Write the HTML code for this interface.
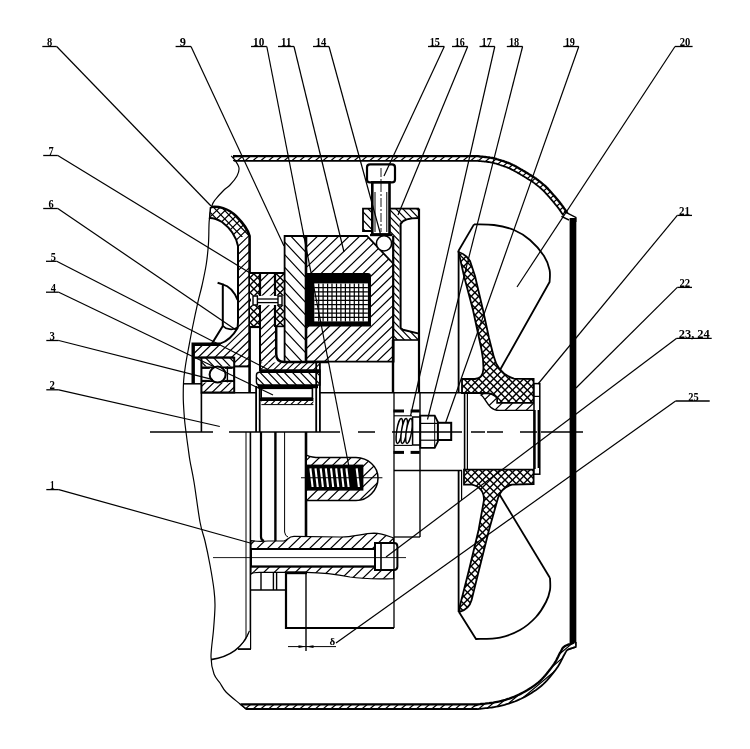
<!DOCTYPE html>
<html lang="en"><head><meta charset="utf-8"><title>Figure</title>
<style>
html,body{margin:0;padding:0;background:#fff;}
body{width:750px;height:749px;overflow:hidden;}
svg{display:block;filter:grayscale(1);}
</style></head><body>
<svg width="750" height="749" viewBox="0 0 750 749" stroke="#000" fill="none">
<rect x="0" y="0" width="750" height="749" fill="#fff" stroke="none"/>
<defs>
<path id="h1" d="M-139.8,424.2L392.6,-89.9M-134.7,429.5L397.6,-84.6M-129.7,434.7L402.7,-79.4M-124.6,440L407.8,-74.1M-119.5,445.2L412.8,-68.9M-114.4,450.5L417.9,-63.6M-109.4,455.7L423,-58.4M-104.3,461L428.1,-53.1M-99.2,466.2L433.1,-47.8M-94.2,471.5L438.2,-42.6M-89.1,476.7L443.3,-37.3M-84,482L448.3,-32.1M-78.9,487.3L453.4,-26.8M-73.9,492.5L458.5,-21.6M-68.8,497.8L463.6,-16.3M-63.7,503L468.6,-11.1M-58.7,508.3L473.7,-5.8M-53.6,513.5L478.8,-0.6M-48.5,518.8L483.8,4.7M-43.5,524L488.9,9.9M-38.4,529.3L494,15.2M-33.3,534.5L499.1,20.4M-28.2,539.8L504.1,25.7M-23.2,545L509.2,30.9M-18.1,550.3L514.3,36.2M-13,555.5L519.3,41.4M-8,560.8L524.4,46.7M-2.9,566L529.5,51.9M2.2,571.3L534.5,57.2M7.3,576.5L539.6,62.4M12.3,581.8L544.7,67.7M17.4,587L549.8,72.9M22.5,592.3L554.8,78.2M27.5,597.5L559.9,83.4M32.6,602.8L565,88.7M37.7,608L570,93.9M42.8,613.3L575.1,99.2M47.8,618.5L580.2,104.4M52.9,623.8L585.3,109.7M58,629L590.3,114.9M63,634.3L595.4,120.2M68.1,639.5L600.5,125.4M73.2,644.8L605.5,130.7M78.3,650L610.6,135.9M83.3,655.3L615.7,141.2M88.4,660.5L620.8,146.4M93.5,665.8L625.8,151.7M98.5,671L630.9,156.9M103.6,676.3L636,162.2M108.7,681.5L641,167.5M113.7,686.8L646.1,172.7M118.8,692L651.2,178M123.9,697.3L656.3,183.2M129,702.5L661.3,188.5M134,707.8L666.4,193.7M139.1,713.1L671.5,199M144.2,718.3L676.5,204.2M149.2,723.6L681.6,209.5M154.3,728.8L686.7,214.7M159.4,734.1L691.7,220M164.5,739.3L696.8,225.2M169.5,744.6L701.9,230.5M174.6,749.8L707,235.7M179.7,755.1L712,241M184.7,760.3L717.1,246.2M189.8,765.6L722.2,251.5M194.9,770.8L727.2,256.7M200,776.1L732.3,262M205,781.3L737.4,267.2M210.1,786.6L742.5,272.5M215.2,791.8L747.5,277.7M220.2,797.1L752.6,283M225.3,802.3L757.7,288.2M230.4,807.6L762.7,293.5M235.5,812.8L767.8,298.7M240.5,818.1L772.9,304M245.6,823.3L778,309.2M250.7,828.6L783,314.5M255.7,833.8L788.1,319.7M260.8,839.1L793.2,325M265.9,844.3L798.2,330.2M270.9,849.6L803.3,335.5M276,854.8L808.4,340.7M281.1,860.1L813.5,346M286.2,865.3L818.5,351.2M291.2,870.6L823.6,356.5M296.3,875.8L828.7,361.7M301.4,881.1L833.7,367M306.4,886.3L838.8,372.2M311.5,891.6L843.9,377.5M316.6,896.8L848.9,382.7M321.7,902.1L854,388M326.7,907.3L859.1,393.3M331.8,912.6L864.2,398.5M336.9,917.8L869.2,403.8M341.9,923.1L874.3,409M347,928.4L879.4,414.3M352.1,933.6L884.4,419.5M357.2,938.9L889.5,424.8M362.2,944.1L894.6,430M367.3,949.4L899.7,435.3M372.4,954.6L904.7,440.5M377.4,959.9L909.8,445.8" stroke="#000" stroke-width="1.2" fill="none"/>
<path id="h2" d="M395.8,-89.8L909.9,442.6M390.5,-84.7L904.6,447.6M385.3,-79.7L899.4,452.7M380,-74.6L894.1,457.8M374.8,-69.5L888.9,462.8M369.5,-64.4L883.6,467.9M364.3,-59.4L878.4,473M359,-54.3L873.1,478.1M353.8,-49.2L867.8,483.1M348.5,-44.2L862.6,488.2M343.3,-39.1L857.3,493.3M338,-34L852.1,498.3M332.7,-28.9L846.8,503.4M327.5,-23.9L841.6,508.5M322.2,-18.8L836.3,513.6M317,-13.7L831.1,518.6M311.7,-8.7L825.8,523.7M306.5,-3.6L820.6,528.8M301.2,1.5L815.3,533.8M296,6.5L810.1,538.9M290.7,11.6L804.8,544M285.5,16.7L799.6,549.1M280.2,21.8L794.3,554.1M275,26.8L789.1,559.2M269.7,31.9L783.8,564.3M264.5,37L778.6,569.3M259.2,42L773.3,574.4M254,47.1L768.1,579.5M248.7,52.2L762.8,584.5M243.5,57.3L757.6,589.6M238.2,62.3L752.3,594.7M233,67.4L747.1,599.8M227.7,72.5L741.8,604.8M222.5,77.5L736.6,609.9M217.2,82.6L731.3,615M212,87.7L726.1,620M206.7,92.8L720.8,625.1M201.5,97.8L715.6,630.2M196.2,102.9L710.3,635.3M191,108L705.1,640.3M185.7,113L699.8,645.4M180.5,118.1L694.6,650.5M175.2,123.2L689.3,655.5M170,128.3L684.1,660.6M164.7,133.3L678.8,665.7M159.5,138.4L673.6,670.8M154.2,143.5L668.3,675.8M149,148.5L663.1,680.9M143.7,153.6L657.8,686M138.5,158.7L652.5,691M133.2,163.7L647.3,696.1M128,168.8L642,701.2M122.7,173.9L636.8,706.3M117.5,179L631.5,711.3M112.2,184L626.3,716.4M106.9,189.1L621,721.5M101.7,194.2L615.8,726.5M96.4,199.2L610.5,731.6M91.2,204.3L605.3,736.7M85.9,209.4L600,741.7M80.7,214.5L594.8,746.8M75.4,219.5L589.5,751.9M70.2,224.6L584.3,757M64.9,229.7L579,762M59.7,234.7L573.8,767.1M54.4,239.8L568.5,772.2M49.2,244.9L563.3,777.2M43.9,250L558,782.3M38.7,255L552.8,787.4M33.4,260.1L547.5,792.5M28.2,265.2L542.3,797.5M22.9,270.2L537,802.6M17.7,275.3L531.8,807.7M12.4,280.4L526.5,812.7M7.2,285.5L521.3,817.8M1.9,290.5L516,822.9M-3.3,295.6L510.8,828M-8.6,300.7L505.5,833M-13.8,305.7L500.3,838.1M-19.1,310.8L495,843.2M-24.3,315.9L489.8,848.2M-29.6,320.9L484.5,853.3M-34.8,326L479.3,858.4M-40.1,331.1L474,863.5M-45.3,336.2L468.8,868.5M-50.6,341.2L463.5,873.6M-55.8,346.3L458.3,878.7M-61.1,351.4L453,883.7M-66.3,356.4L447.8,888.8M-71.6,361.5L442.5,893.9M-76.8,366.6L437.3,898.9M-82.1,371.7L432,904M-87.3,376.7L426.7,909.1M-92.6,381.8L421.5,914.2M-97.8,386.9L416.2,919.2M-103.1,391.9L411,924.3M-108.4,397L405.7,929.4M-113.6,402.1L400.5,934.4M-118.9,407.2L395.2,939.5M-124.1,412.2L390,944.6M-129.4,417.3L384.7,949.7M-134.6,422.4L379.5,954.7M-139.9,427.4L374.2,959.8" stroke="#000" stroke-width="1.2" fill="none"/>
<path id="h2c" d="M407.9,-92.3L912.6,448.9M401.6,-86.5L906.4,454.8M395.3,-80.6L900.1,460.7M389,-74.7L893.8,466.5M382.8,-68.9L887.5,472.4M376.5,-63L881.2,478.2M370.2,-57.1L874.9,484.1M363.9,-51.3L868.6,490M357.6,-45.4L862.3,495.8M351.3,-39.5L856,501.7M345,-33.7L849.7,507.6M338.7,-27.8L843.5,513.4M332.4,-21.9L837.2,519.3M326.2,-16.1L830.9,525.2M319.9,-10.2L824.6,531M313.6,-4.4L818.3,536.9M307.3,1.5L812,542.8M301,7.4L805.7,548.6M294.7,13.2L799.4,554.5M288.4,19.1L793.1,560.4M282.1,25L786.9,566.2M275.8,30.8L780.6,572.1M269.5,36.7L774.3,578M263.3,42.6L768,583.8M257,48.4L761.7,589.7M250.7,54.3L755.4,595.6M244.4,60.2L749.1,601.4M238.1,66L742.8,607.3M231.8,71.9L736.5,613.1M225.5,77.8L730.2,619M219.2,83.6L724,624.9M212.9,89.5L717.7,630.7M206.7,95.4L711.4,636.6M200.4,101.2L705.1,642.5M194.1,107.1L698.8,648.3M187.8,113L692.5,654.2M181.5,118.8L686.2,660.1M175.2,124.7L679.9,665.9M168.9,130.5L673.6,671.8M162.6,136.4L667.3,677.7M156.3,142.3L661.1,683.5M150,148.1L654.8,689.4M143.8,154L648.5,695.3M137.5,159.9L642.2,701.1M131.2,165.7L635.9,707M124.9,171.6L629.6,712.9M118.6,177.5L623.3,718.7M112.3,183.3L617,724.6M106,189.2L610.7,730.5M99.7,195.1L604.5,736.3M93.4,200.9L598.2,742.2M87.1,206.8L591.9,748M80.9,212.7L585.6,753.9M74.6,218.5L579.3,759.8M68.3,224.4L573,765.6M62,230.3L566.7,771.5M55.7,236.1L560.4,777.4M49.4,242L554.1,783.2M43.1,247.9L547.8,789.1M36.8,253.7L541.6,795M30.5,259.6L535.3,800.8M24.3,265.4L529,806.7M18,271.3L522.7,812.6M11.7,277.2L516.4,818.4M5.4,283L510.1,824.3M-0.9,288.9L503.8,830.2M-7.2,294.8L497.5,836M-13.5,300.6L491.2,841.9M-19.8,306.5L484.9,847.8M-26.1,312.4L478.7,853.6M-32.4,318.2L472.4,859.5M-38.6,324.1L466.1,865.3M-44.9,330L459.8,871.2M-51.2,335.8L453.5,877.1M-57.5,341.7L447.2,882.9M-63.8,347.6L440.9,888.8M-70.1,353.4L434.6,894.7M-76.4,359.3L428.3,900.5M-82.7,365.2L422.1,906.4M-89,371L415.8,912.3M-95.3,376.9L409.5,918.1M-101.5,382.7L403.2,924M-107.8,388.6L396.9,929.9M-114.1,394.5L390.6,935.7M-120.4,400.3L384.3,941.6M-126.7,406.2L378,947.5M-133,412.1L371.7,953.3M-139.3,417.9L365.4,959.2M-145.6,423.8L359.2,965.1" stroke="#000" stroke-width="1.2" fill="none"/>
<path id="h1s" d="M-140,424L392.4,-90.1M-136.8,427.3L395.5,-86.8M-133.6,430.6L398.7,-83.5M-130.4,433.9L401.9,-80.1M-127.2,437.3L405.1,-76.8M-124,440.6L408.3,-73.5M-120.8,443.9L411.5,-70.2M-117.6,447.2L414.7,-66.9M-114.4,450.5L417.9,-63.6M-111.3,453.8L421.1,-60.3M-108.1,457.1L424.3,-57M-104.9,460.4L427.5,-53.7M-101.7,463.7L430.7,-50.4M-98.5,467L433.9,-47.1M-95.3,470.3L437.1,-43.7M-92.1,473.7L440.3,-40.4M-88.9,477L443.5,-37.1M-85.7,480.3L446.7,-33.8M-82.5,483.6L449.9,-30.5M-79.3,486.9L453.1,-27.2M-76.1,490.2L456.3,-23.9M-72.9,493.5L459.5,-20.6M-69.7,496.8L462.7,-17.3M-66.5,500.1L465.8,-14M-63.3,503.4L469,-10.7M-60.1,506.7L472.2,-7.3M-56.9,510.1L475.4,-4M-53.7,513.4L478.6,-0.7M-50.5,516.7L481.8,2.6M-47.3,520L485,5.9M-44.1,523.3L488.2,9.2M-41,526.6L491.4,12.5M-37.8,529.9L494.6,15.8M-34.6,533.2L497.8,19.1M-31.4,536.5L501,22.4M-28.2,539.8L504.2,25.7M-25,543.1L507.4,29M-21.8,546.5L510.6,32.4M-18.6,549.8L513.8,35.7M-15.4,553.1L517,39M-12.2,556.4L520.2,42.3M-9,559.7L523.4,45.6M-5.8,563L526.6,48.9M-2.6,566.3L529.8,52.2M0.6,569.6L532.9,55.5M3.8,572.9L536.1,58.8M7,576.2L539.3,62.1M10.2,579.5L542.5,65.4M13.4,582.9L545.7,68.8M16.6,586.2L548.9,72.1M19.8,589.5L552.1,75.4M23,592.8L555.3,78.7M26.2,596.1L558.5,82M29.3,599.4L561.7,85.3M32.5,602.7L564.9,88.6M35.7,606L568.1,91.9M38.9,609.3L571.3,95.2M42.1,612.6L574.5,98.5M45.3,615.9L577.7,101.8M48.5,619.3L580.9,105.2M51.7,622.6L584.1,108.5M54.9,625.9L587.3,111.8M58.1,629.2L590.5,115.1M61.3,632.5L593.7,118.4M64.5,635.8L596.9,121.7M67.7,639.1L600.1,125M70.9,642.4L603.2,128.3M74.1,645.7L606.4,131.6M77.3,649L609.6,134.9M80.5,652.3L612.8,138.2M83.7,655.6L616,141.6M86.9,659L619.2,144.9M90.1,662.3L622.4,148.2M93.3,665.6L625.6,151.5M96.5,668.9L628.8,154.8M99.6,672.2L632,158.1M102.8,675.5L635.2,161.4M106,678.8L638.4,164.7M109.2,682.1L641.6,168M112.4,685.4L644.8,171.3M115.6,688.7L648,174.6M118.8,692L651.2,178M122,695.4L654.4,181.3M125.2,698.7L657.6,184.6M128.4,702L660.8,187.9M131.6,705.3L664,191.2M134.8,708.6L667.2,194.5M138,711.9L670.4,197.8M141.2,715.2L673.5,201.1M144.4,718.5L676.7,204.4M147.6,721.8L679.9,207.7M150.8,725.1L683.1,211M154,728.4L686.3,214.4M157.2,731.8L689.5,217.7M160.4,735.1L692.7,221M163.6,738.4L695.9,224.3M166.8,741.7L699.1,227.6M169.9,745L702.3,230.9M173.1,748.3L705.5,234.2M176.3,751.6L708.7,237.5M179.5,754.9L711.9,240.8M182.7,758.2L715.1,244.1M185.9,761.5L718.3,247.4M189.1,764.8L721.5,250.7M192.3,768.2L724.7,254.1M195.5,771.5L727.9,257.4M198.7,774.8L731.1,260.7M201.9,778.1L734.3,264M205.1,781.4L737.5,267.3M208.3,784.7L740.7,270.6M211.5,788L743.8,273.9M214.7,791.3L747,277.2M217.9,794.6L750.2,280.5M221.1,797.9L753.4,283.8M224.3,801.2L756.6,287.1M227.5,804.6L759.8,290.5M230.7,807.9L763,293.8M233.9,811.2L766.2,297.1M237.1,814.5L769.4,300.4M240.2,817.8L772.6,303.7M243.4,821.1L775.8,307M246.6,824.4L779,310.3M249.8,827.7L782.2,313.6M253,831L785.4,316.9M256.2,834.3L788.6,320.2M259.4,837.6L791.8,323.5M262.6,841L795,326.9M265.8,844.3L798.2,330.2M269,847.6L801.4,333.5M272.2,850.9L804.6,336.8M275.4,854.2L807.8,340.1M278.6,857.5L811,343.4M281.8,860.8L814.1,346.7M285,864.1L817.3,350M288.2,867.4L820.5,353.3M291.4,870.7L823.7,356.6M294.6,874L826.9,359.9M297.8,877.3L830.1,363.3M301,880.7L833.3,366.6M304.2,884L836.5,369.9M307.3,887.3L839.7,373.2M310.5,890.6L842.9,376.5M313.7,893.9L846.1,379.8M316.9,897.2L849.3,383.1M320.1,900.5L852.5,386.4M323.3,903.8L855.7,389.7M326.5,907.1L858.9,393M329.7,910.4L862.1,396.3M332.9,913.7L865.3,399.7M336.1,917.1L868.5,403M339.3,920.4L871.7,406.3M342.5,923.7L874.9,409.6M345.7,927L878.1,412.9M348.9,930.3L881.3,416.2M352.1,933.6L884.4,419.5M355.3,936.9L887.6,422.8M358.5,940.2L890.8,426.1M361.7,943.5L894,429.4M364.9,946.8L897.2,432.7M368.1,950.1L900.4,436.1M371.3,953.5L903.6,439.4M374.5,956.8L906.8,442.7M377.6,960.1L910,446" stroke="#000" stroke-width="1.1" fill="none"/>
<path id="h2s" d="M396,-90L910.1,442.4M392.7,-86.8L906.8,445.5M389.4,-83.6L903.5,448.7M386.1,-80.4L900.1,451.9M382.7,-77.2L896.8,455.1M379.4,-74L893.5,458.3M376.1,-70.8L890.2,461.5M372.8,-67.6L886.9,464.7M369.5,-64.4L883.6,467.9M366.2,-61.3L880.3,471.1M362.9,-58.1L877,474.3M359.6,-54.9L873.7,477.5M356.3,-51.7L870.4,480.7M353,-48.5L867.1,483.9M349.7,-45.3L863.7,487.1M346.3,-42.1L860.4,490.3M343,-38.9L857.1,493.5M339.7,-35.7L853.8,496.7M336.4,-32.5L850.5,499.9M333.1,-29.3L847.2,503.1M329.8,-26.1L843.9,506.3M326.5,-22.9L840.6,509.5M323.2,-19.7L837.3,512.7M319.9,-16.5L834,515.8M316.6,-13.3L830.7,519M313.3,-10.1L827.3,522.2M309.9,-6.9L824,525.4M306.6,-3.7L820.7,528.6M303.3,-0.5L817.4,531.8M300,2.7L814.1,535M296.7,5.9L810.8,538.2M293.4,9L807.5,541.4M290.1,12.2L804.2,544.6M286.8,15.4L800.9,547.8M283.5,18.6L797.6,551M280.2,21.8L794.3,554.2M276.9,25L791,557.4M273.5,28.2L787.6,560.6M270.2,31.4L784.3,563.8M266.9,34.6L781,567M263.6,37.8L777.7,570.2M260.3,41L774.4,573.4M257,44.2L771.1,576.6M253.7,47.4L767.8,579.8M250.4,50.6L764.5,582.9M247.1,53.8L761.2,586.1M243.8,57L757.9,589.3M240.5,60.2L754.6,592.5M237.1,63.4L751.2,595.7M233.8,66.6L747.9,598.9M230.5,69.8L744.6,602.1M227.2,73L741.3,605.3M223.9,76.2L738,608.5M220.6,79.3L734.7,611.7M217.3,82.5L731.4,614.9M214,85.7L728.1,618.1M210.7,88.9L724.8,621.3M207.4,92.1L721.5,624.5M204.1,95.3L718.2,627.7M200.7,98.5L714.8,630.9M197.4,101.7L711.5,634.1M194.1,104.9L708.2,637.3M190.8,108.1L704.9,640.5M187.5,111.3L701.6,643.7M184.2,114.5L698.3,646.9M180.9,117.7L695,650.1M177.6,120.9L691.7,653.2M174.3,124.1L688.4,656.4M171,127.3L685.1,659.6M167.7,130.5L681.8,662.8M164.4,133.7L678.4,666M161,136.9L675.1,669.2M157.7,140.1L671.8,672.4M154.4,143.3L668.5,675.6M151.1,146.5L665.2,678.8M147.8,149.6L661.9,682M144.5,152.8L658.6,685.2M141.2,156L655.3,688.4M137.9,159.2L652,691.6M134.6,162.4L648.7,694.8M131.3,165.6L645.4,698M128,168.8L642,701.2M124.6,172L638.7,704.4M121.3,175.2L635.4,707.6M118,178.4L632.1,710.8M114.7,181.6L628.8,714M111.4,184.8L625.5,717.2M108.1,188L622.2,720.4M104.8,191.2L618.9,723.5M101.5,194.4L615.6,726.7M98.2,197.6L612.3,729.9M94.9,200.8L609,733.1M91.6,204L605.6,736.3M88.2,207.2L602.3,739.5M84.9,210.4L599,742.7M81.6,213.6L595.7,745.9M78.3,216.8L592.4,749.1M75,219.9L589.1,752.3M71.7,223.1L585.8,755.5M68.4,226.3L582.5,758.7M65.1,229.5L579.2,761.9M61.8,232.7L575.9,765.1M58.5,235.9L572.6,768.3M55.2,239.1L569.3,771.5M51.8,242.3L565.9,774.7M48.5,245.5L562.6,777.9M45.2,248.7L559.3,781.1M41.9,251.9L556,784.3M38.6,255.1L552.7,787.5M35.3,258.3L549.4,790.7M32,261.5L546.1,793.8M28.7,264.7L542.8,797M25.4,267.9L539.5,800.2M22.1,271.1L536.2,803.4M18.8,274.3L532.9,806.6M15.4,277.5L529.5,809.8M12.1,280.7L526.2,813M8.8,283.9L522.9,816.2M5.5,287.1L519.6,819.4M2.2,290.2L516.3,822.6M-1.1,293.4L513,825.8M-4.4,296.6L509.7,829M-7.7,299.8L506.4,832.2M-11,303L503.1,835.4M-14.3,306.2L499.8,838.6M-17.6,309.4L496.5,841.8M-21,312.6L493.1,845M-24.3,315.8L489.8,848.2M-27.6,319L486.5,851.4M-30.9,322.2L483.2,854.6M-34.2,325.4L479.9,857.8M-37.5,328.6L476.6,861M-40.8,331.8L473.3,864.1M-44.1,335L470,867.3M-47.4,338.2L466.7,870.5M-50.7,341.4L463.4,873.7M-54,344.6L460.1,876.9M-57.3,347.8L456.7,880.1M-60.7,351L453.4,883.3M-64,354.2L450.1,886.5M-67.3,357.3L446.8,889.7M-70.6,360.5L443.5,892.9M-73.9,363.7L440.2,896.1M-77.2,366.9L436.9,899.3M-80.5,370.1L433.6,902.5M-83.8,373.3L430.3,905.7M-87.1,376.5L427,908.9M-90.4,379.7L423.7,912.1M-93.7,382.9L420.3,915.3M-97.1,386.1L417,918.5M-100.4,389.3L413.7,921.7M-103.7,392.5L410.4,924.9M-107,395.7L407.1,928.1M-110.3,398.9L403.8,931.3M-113.6,402.1L400.5,934.4M-116.9,405.3L397.2,937.6M-120.2,408.5L393.9,940.8M-123.5,411.7L390.6,944M-126.8,414.9L387.3,947.2M-130.1,418.1L383.9,950.4M-133.5,421.3L380.6,953.6M-136.8,424.5L377.3,956.8M-140.1,427.6L374,960" stroke="#000" stroke-width="1.1" fill="none"/>
<path id="h2w" d="M397.7,-91.7L911.8,440.7M394.1,-88.2L908.2,444.2M390.5,-84.7L904.6,447.6M386.9,-81.3L901,451.1M383.3,-77.8L897.4,454.6M379.7,-74.3L893.8,458M376.1,-70.8L890.2,461.5M372.5,-67.4L886.6,465M368.9,-63.9L883,468.5M365.3,-60.4L879.4,471.9M361.7,-56.9L875.8,475.4M358.1,-53.5L872.2,478.9M354.5,-50L868.6,482.4M350.9,-46.5L865,485.8M347.4,-43.1L861.4,489.3M343.8,-39.6L857.8,492.8M340.2,-36.1L854.3,496.3M336.6,-32.6L850.7,499.7M333,-29.2L847.1,503.2M329.4,-25.7L843.5,506.7M325.8,-22.2L839.9,510.1M322.2,-18.7L836.3,513.6M318.6,-15.3L832.7,517.1M315,-11.8L829.1,520.6M311.4,-8.3L825.5,524M307.8,-4.8L821.9,527.5M304.2,-1.4L818.3,531M300.6,2.1L814.7,534.5M297,5.6L811.1,537.9M293.4,9L807.5,541.4M289.8,12.5L803.9,544.9M286.2,16L800.3,548.4M282.6,19.5L796.7,551.8M279,22.9L793.1,555.3M275.4,26.4L789.5,558.8M271.8,29.9L785.9,562.2M268.2,33.4L782.3,565.7M264.6,36.8L778.7,569.2M261,40.3L775.1,572.7M257.4,43.8L771.5,576.1M253.8,47.3L767.9,579.6M250.2,50.7L764.3,583.1M246.6,54.2L760.7,586.6M243,57.7L757.1,590M239.5,61.1L753.5,593.5M235.9,64.6L749.9,597M232.3,68.1L746.4,600.5M228.7,71.6L742.8,603.9M225.1,75L739.2,607.4M221.5,78.5L735.6,610.9M217.9,82L732,614.3M214.3,85.5L728.4,617.8M210.7,88.9L724.8,621.3M207.1,92.4L721.2,624.8M203.5,95.9L717.6,628.2M199.9,99.4L714,631.7M196.3,102.8L710.4,635.2M192.7,106.3L706.8,638.7M189.1,109.8L703.2,642.1M185.5,113.2L699.6,645.6M181.9,116.7L696,649.1M178.3,120.2L692.4,652.6M174.7,123.7L688.8,656M171.1,127.1L685.2,659.5M167.5,130.6L681.6,663M163.9,134.1L678,666.4M160.3,137.6L674.4,669.9M156.7,141L670.8,673.4M153.1,144.5L667.2,676.9M149.5,148L663.6,680.3M145.9,151.5L660,683.8M142.3,154.9L656.4,687.3M138.7,158.4L652.8,690.8M135.1,161.9L649.2,694.2M131.5,165.3L645.6,697.7M128,168.8L642,701.2M124.4,172.3L638.5,704.7M120.8,175.8L634.9,708.1M117.2,179.2L631.3,711.6M113.6,182.7L627.7,715.1M110,186.2L624.1,718.5M106.4,189.7L620.5,722M102.8,193.1L616.9,725.5M99.2,196.6L613.3,729M95.6,200.1L609.7,732.4M92,203.6L606.1,735.9M88.4,207L602.5,739.4M84.8,210.5L598.9,742.9M81.2,214L595.3,746.3M77.6,217.4L591.7,749.8M74,220.9L588.1,753.3M70.4,224.4L584.5,756.8M66.8,227.9L580.9,760.2M63.2,231.3L577.3,763.7M59.6,234.8L573.7,767.2M56,238.3L570.1,770.6M52.4,241.8L566.5,774.1M48.8,245.2L562.9,777.6M45.2,248.7L559.3,781.1M41.6,252.2L555.7,784.5M38,255.7L552.1,788M34.4,259.1L548.5,791.5M30.8,262.6L544.9,795M27.2,266.1L541.3,798.4M23.6,269.5L537.7,801.9M20.1,273L534.1,805.4M16.5,276.5L530.5,808.9M12.9,280L527,812.3M9.3,283.4L523.4,815.8M5.7,286.9L519.8,819.3M2.1,290.4L516.2,822.7M-1.5,293.9L512.6,826.2M-5.1,297.3L509,829.7M-8.7,300.8L505.4,833.2M-12.3,304.3L501.8,836.6M-15.9,307.8L498.2,840.1M-19.5,311.2L494.6,843.6M-23.1,314.7L491,847.1M-26.7,318.2L487.4,850.5M-30.3,321.6L483.8,854M-33.9,325.1L480.2,857.5M-37.5,328.6L476.6,861M-41.1,332.1L473,864.4M-44.7,335.5L469.4,867.9M-48.3,339L465.8,871.4M-51.9,342.5L462.2,874.8M-55.5,346L458.6,878.3M-59.1,349.4L455,881.8M-62.7,352.9L451.4,885.3M-66.3,356.4L447.8,888.7M-69.9,359.9L444.2,892.2M-73.5,363.3L440.6,895.7M-77.1,366.8L437,899.2M-80.7,370.3L433.4,902.6M-84.3,373.7L429.8,906.1M-87.8,377.2L426.2,909.6M-91.4,380.7L422.6,913.1M-95,384.2L419.1,916.5M-98.6,387.6L415.5,920M-102.2,391.1L411.9,923.5M-105.8,394.6L408.3,926.9M-109.4,398.1L404.7,930.4M-113,401.5L401.1,933.9M-116.6,405L397.5,937.4M-120.2,408.5L393.9,940.8M-123.8,412L390.3,944.3M-127.4,415.4L386.7,947.8M-131,418.9L383.1,951.3M-134.6,422.4L379.5,954.7M-138.2,425.8L375.9,958.2M-141.8,429.3L372.3,961.7" stroke="#000" stroke-width="1.2" fill="none"/>
<path id="h1m" d="M-139,425L393.3,-89.1M-135,429.2L397.4,-84.9M-131,433.4L401.4,-80.7M-127,437.5L405.4,-76.5M-122.9,441.7L409.4,-72.4M-118.9,445.9L413.5,-68.2M-114.9,450.1L417.5,-64M-110.8,454.2L421.5,-59.9M-106.8,458.4L425.6,-55.7M-102.8,462.6L429.6,-51.5M-98.7,466.8L433.6,-47.3M-94.7,470.9L437.6,-43.2M-90.7,475.1L441.7,-39M-86.7,479.3L445.7,-34.8M-82.6,483.4L449.7,-30.7M-78.6,487.6L453.8,-26.5M-74.6,491.8L457.8,-22.3M-70.5,496L461.8,-18.1M-66.5,500.1L465.8,-14M-62.5,504.3L469.9,-9.8M-58.5,508.5L473.9,-5.6M-54.4,512.6L477.9,-1.5M-50.4,516.8L482,2.7M-46.4,521L486,6.9M-42.3,525.2L490,11.1M-38.3,529.3L494,15.2M-34.3,533.5L498.1,19.4M-30.3,537.7L502.1,23.6M-26.2,541.8L506.1,27.8M-22.2,546L510.2,31.9M-18.2,550.2L514.2,36.1M-14.1,554.4L518.2,40.3M-10.1,558.5L522.3,44.4M-6.1,562.7L526.3,48.6M-2.1,566.9L530.3,52.8M2,571.1L534.3,57M6,575.2L538.4,61.1M10,579.4L542.4,65.3M14.1,583.6L546.4,69.5M18.1,587.7L550.5,73.6M22.1,591.9L554.5,77.8M26.2,596.1L558.5,82M30.2,600.3L562.5,86.2M34.2,604.4L566.6,90.3M38.2,608.6L570.6,94.5M42.3,612.8L574.6,98.7M46.3,616.9L578.7,102.9M50.3,621.1L582.7,107M54.4,625.3L586.7,111.2M58.4,629.5L590.7,115.4M62.4,633.6L594.8,119.5M66.4,637.8L598.8,123.7M70.5,642L602.8,127.9M74.5,646.2L606.9,132.1M78.5,650.3L610.9,136.2M82.6,654.5L614.9,140.4M86.6,658.7L618.9,144.6M90.6,662.8L623,148.7M94.6,667L627,152.9M98.7,671.2L631,157.1M102.7,675.4L635.1,161.3M106.7,679.5L639.1,165.4M110.8,683.7L643.1,169.6M114.8,687.9L647.2,173.8M118.8,692L651.2,178M122.8,696.2L655.2,182.1M126.9,700.4L659.2,186.3M130.9,704.6L663.3,190.5M134.9,708.7L667.3,194.6M139,712.9L671.3,198.8M143,717.1L675.4,203M147,721.3L679.4,207.2M151.1,725.4L683.4,211.3M155.1,729.6L687.4,215.5M159.1,733.8L691.5,219.7M163.1,737.9L695.5,223.8M167.2,742.1L699.5,228M171.2,746.3L703.6,232.2M175.2,750.5L707.6,236.4M179.3,754.6L711.6,240.5M183.3,758.8L715.6,244.7M187.3,763L719.7,248.9M191.3,767.1L723.7,253.1M195.4,771.3L727.7,257.2M199.4,775.5L731.8,261.4M203.4,779.7L735.8,265.6M207.5,783.8L739.8,269.7M211.5,788L743.8,273.9M215.5,792.2L747.9,278.1M219.5,796.4L751.9,282.3M223.6,800.5L755.9,286.4M227.6,804.7L760,290.6M231.6,808.9L764,294.8M235.7,813L768,298.9M239.7,817.2L772.1,303.1M243.7,821.4L776.1,307.3M247.7,825.6L780.1,311.5M251.8,829.7L784.1,315.6M255.8,833.9L788.2,319.8M259.8,838.1L792.2,324M263.9,842.2L796.2,328.2M267.9,846.4L800.3,332.3M271.9,850.6L804.3,336.5M276,854.8L808.3,340.7M280,858.9L812.3,344.8M284,863.1L816.4,349M288,867.3L820.4,353.2M292.1,871.5L824.4,357.4M296.1,875.6L828.5,361.5M300.1,879.8L832.5,365.7M304.2,884L836.5,369.9M308.2,888.1L840.5,374M312.2,892.3L844.6,378.2M316.2,896.5L848.6,382.4M320.3,900.7L852.6,386.6M324.3,904.8L856.7,390.7M328.3,909L860.7,394.9M332.4,913.2L864.7,399.1M336.4,917.3L868.7,403.2M340.4,921.5L872.8,407.4M344.4,925.7L876.8,411.6M348.5,929.9L880.8,415.8M352.5,934L884.9,419.9M356.5,938.2L888.9,424.1M360.6,942.4L892.9,428.3M364.6,946.5L897,432.5M368.6,950.7L901,436.6M372.6,954.9L905,440.8M376.7,959.1L909,445" stroke="#000" stroke-width="1.2" fill="none"/>
<path id="h2m" d="M395,-89L909.1,443.3M390.8,-85L904.9,447.4M386.6,-81L900.7,451.4M382.5,-77L896.5,455.4M378.3,-72.9L892.4,459.4M374.1,-68.9L888.2,463.5M369.9,-64.9L884,467.5M365.8,-60.8L879.9,471.5M361.6,-56.8L875.7,475.6M357.4,-52.8L871.5,479.6M353.2,-48.7L867.3,483.6M349.1,-44.7L863.2,487.6M344.9,-40.7L859,491.7M340.7,-36.7L854.8,495.7M336.6,-32.6L850.7,499.7M332.4,-28.6L846.5,503.8M328.2,-24.6L842.3,507.8M324,-20.5L838.1,511.8M319.9,-16.5L834,515.8M315.7,-12.5L829.8,519.9M311.5,-8.5L825.6,523.9M307.4,-4.4L821.5,527.9M303.2,-0.4L817.3,532M299,3.6L813.1,536M294.8,7.7L808.9,540M290.7,11.7L804.8,544M286.5,15.7L800.6,548.1M282.3,19.7L796.4,552.1M278.2,23.8L792.2,556.1M274,27.8L788.1,560.2M269.8,31.8L783.9,564.2M265.6,35.9L779.7,568.2M261.5,39.9L775.6,572.3M257.3,43.9L771.4,576.3M253.1,47.9L767.2,580.3M248.9,52L763,584.3M244.8,56L758.9,588.4M240.6,60L754.7,592.4M236.4,64.1L750.5,596.4M232.3,68.1L746.4,600.5M228.1,72.1L742.2,604.5M223.9,76.2L738,608.5M219.7,80.2L733.8,612.5M215.6,84.2L729.7,616.6M211.4,88.2L725.5,620.6M207.2,92.3L721.3,624.6M203.1,96.3L717.1,628.7M198.9,100.3L713,632.7M194.7,104.4L708.8,636.7M190.5,108.4L704.6,640.7M186.4,112.4L700.5,644.8M182.2,116.4L696.3,648.8M178,120.5L692.1,652.8M173.8,124.5L687.9,656.9M169.7,128.5L683.8,660.9M165.5,132.6L679.6,664.9M161.3,136.6L675.4,668.9M157.2,140.6L671.3,673M153,144.6L667.1,677M148.8,148.7L662.9,681M144.6,152.7L658.7,685.1M140.5,156.7L654.6,689.1M136.3,160.8L650.4,693.1M132.1,164.8L646.2,697.2M128,168.8L642,701.2M123.8,172.8L637.9,705.2M119.6,176.9L633.7,709.2M115.4,180.9L629.5,713.3M111.3,184.9L625.4,717.3M107.1,189L621.2,721.3M102.9,193L617,725.4M98.7,197L612.8,729.4M94.6,201.1L608.7,733.4M90.4,205.1L604.5,737.4M86.2,209.1L600.3,741.5M82.1,213.1L596.2,745.5M77.9,217.2L592,749.5M73.7,221.2L587.8,753.6M69.5,225.2L583.6,757.6M65.4,229.3L579.5,761.6M61.2,233.3L575.3,765.6M57,237.3L571.1,769.7M52.9,241.3L566.9,773.7M48.7,245.4L562.8,777.7M44.5,249.4L558.6,781.8M40.3,253.4L554.4,785.8M36.2,257.5L550.3,789.8M32,261.5L546.1,793.8M27.8,265.5L541.9,797.9M23.6,269.5L537.7,801.9M19.5,273.6L533.6,805.9M15.3,277.6L529.4,810M11.1,281.6L525.2,814M7,285.7L521.1,818M2.8,289.7L516.9,822.1M-1.4,293.7L512.7,826.1M-5.6,297.7L508.5,830.1M-9.7,301.8L504.4,834.1M-13.9,305.8L500.2,838.2M-18.1,309.8L496,842.2M-22.2,313.9L491.8,846.2M-26.4,317.9L487.7,850.3M-30.6,321.9L483.5,854.3M-34.8,326L479.3,858.3M-38.9,330L475.2,862.3M-43.1,334L471,866.4M-47.3,338L466.8,870.4M-51.5,342.1L462.6,874.4M-55.6,346.1L458.5,878.5M-59.8,350.1L454.3,882.5M-64,354.2L450.1,886.5M-68.1,358.2L446,890.5M-72.3,362.2L441.8,894.6M-76.5,366.2L437.6,898.6M-80.7,370.3L433.4,902.6M-84.8,374.3L429.3,906.7M-89,378.3L425.1,910.7M-93.2,382.4L420.9,914.7M-97.3,386.4L416.8,918.7M-101.5,390.4L412.6,922.8M-105.7,394.4L408.4,926.8M-109.9,398.5L404.2,930.8M-114,402.5L400.1,934.9M-118.2,406.5L395.9,938.9M-122.4,410.6L391.7,942.9M-126.5,414.6L387.5,947M-130.7,418.6L383.4,951M-134.9,422.6L379.2,955M-139.1,426.7L375,959" stroke="#000" stroke-width="1.2" fill="none"/>
<path id="hb" d="M-139.5,385.6L427.4,-90.1M-136.3,389.4L430.6,-86.3M-133.1,393.2L433.8,-82.5M-129.9,397.1L437.1,-78.6M-126.7,400.9L440.3,-74.8M-123.4,404.7L443.5,-71M-120.2,408.6L446.7,-67.1M-117,412.4L449.9,-63.3M-113.8,416.2L453.1,-59.5M-110.6,420.1L456.3,-55.6M-107.4,423.9L459.6,-51.8M-104.2,427.7L462.8,-48M-100.9,431.5L466,-44.2M-97.7,435.4L469.2,-40.3M-94.5,439.2L472.4,-36.5M-91.3,443L475.6,-32.7M-88.1,446.9L478.8,-28.8M-84.9,450.7L482.1,-25M-81.7,454.5L485.3,-21.2M-78.4,458.4L488.5,-17.3M-75.2,462.2L491.7,-13.5M-72,466L494.9,-9.7M-68.8,469.9L498.1,-5.9M-65.6,473.7L501.3,-2M-62.4,477.5L504.6,1.8M-59.2,481.3L507.8,5.6M-55.9,485.2L511,9.5M-52.7,489L514.2,13.3M-49.5,492.8L517.4,17.1M-46.3,496.7L520.6,21M-43.1,500.5L523.8,24.8M-39.9,504.3L527,28.6M-36.7,508.2L530.3,32.4M-33.4,512L533.5,36.3M-30.2,515.8L536.7,40.1M-27,519.6L539.9,43.9M-23.8,523.5L543.1,47.8M-20.6,527.3L546.3,51.6M-17.4,531.1L549.5,55.4M-14.2,535L552.8,59.3M-11,538.8L556,63.1M-7.7,542.6L559.2,66.9M-4.5,546.5L562.4,70.7M-1.3,550.3L565.6,74.6M1.9,554.1L568.8,78.4M5.1,557.9L572,82.2M8.3,561.8L575.3,86.1M11.5,565.6L578.5,89.9M14.8,569.4L581.7,93.7M18,573.3L584.9,97.6M21.2,577.1L588.1,101.4M24.4,580.9L591.3,105.2M27.6,584.8L594.5,109.1M30.8,588.6L597.8,112.9M34,592.4L601,116.7M37.3,596.2L604.2,120.5M40.5,600.1L607.4,124.4M43.7,603.9L610.6,128.2M46.9,607.7L613.8,132M50.1,611.6L617,135.9M53.3,615.4L620.3,139.7M56.5,619.2L623.5,143.5M59.8,623.1L626.7,147.4M63,626.9L629.9,151.2M66.2,630.7L633.1,155M69.4,634.6L636.3,158.8M72.6,638.4L639.5,162.7M75.8,642.2L642.8,166.5M79,646L646,170.3M82.3,649.9L649.2,174.2M85.5,653.7L652.4,178M88.7,657.5L655.6,181.8M91.9,661.4L658.8,185.7M95.1,665.2L662,189.5M98.3,669L665.2,193.3M101.5,672.9L668.5,197.1M104.8,676.7L671.7,201M108,680.5L674.9,204.8M111.2,684.3L678.1,208.6M114.4,688.2L681.3,212.5M117.6,692L684.5,216.3M120.8,695.8L687.7,220.1M124,699.7L691,224M127.2,703.5L694.2,227.8M130.5,707.3L697.4,231.6M133.7,711.2L700.6,235.4M136.9,715L703.8,239.3M140.1,718.8L707,243.1M143.3,722.6L710.2,246.9M146.5,726.5L713.5,250.8M149.7,730.3L716.7,254.6M153,734.1L719.9,258.4M156.2,738L723.1,262.3M159.4,741.8L726.3,266.1M162.6,745.6L729.5,269.9M165.8,749.5L732.7,273.8M169,753.3L736,277.6M172.2,757.1L739.2,281.4M175.5,760.9L742.4,285.2M178.7,764.8L745.6,289.1M181.9,768.6L748.8,292.9M185.1,772.4L752,296.7M188.3,776.3L755.2,300.6M191.5,780.1L758.5,304.4M194.7,783.9L761.7,308.2M198,787.8L764.9,312.1M201.2,791.6L768.1,315.9M204.4,795.4L771.3,319.7M207.6,799.3L774.5,323.5M210.8,803.1L777.7,327.4M214,806.9L781,331.2M217.2,810.7L784.2,335M220.5,814.6L787.4,338.9M223.7,818.4L790.6,342.7M226.9,822.2L793.8,346.5M230.1,826.1L797,350.4M233.3,829.9L800.2,354.2M236.5,833.7L803.4,358M239.7,837.6L806.7,361.8M243,841.4L809.9,365.7M246.2,845.2L813.1,369.5M249.4,849L816.3,373.3M252.6,852.9L819.5,377.2M255.8,856.7L822.7,381M259,860.5L825.9,384.8M262.2,864.4L829.2,388.7M265.4,868.2L832.4,392.5M268.7,872L835.6,396.3M271.9,875.9L838.8,400.1M275.1,879.7L842,404M278.3,883.5L845.2,407.8M281.5,887.3L848.4,411.6M284.7,891.2L851.7,415.5M287.9,895L854.9,419.3M291.2,898.8L858.1,423.1M294.4,902.7L861.3,427M297.6,906.5L864.5,430.8M300.8,910.3L867.7,434.6M304,914.2L870.9,438.5M307.2,918L874.2,442.3M310.4,921.8L877.4,446.1M313.7,925.6L880.6,449.9M316.9,929.5L883.8,453.8M320.1,933.3L887,457.6M323.3,937.1L890.2,461.4M326.5,941L893.4,465.3M329.7,944.8L896.7,469.1M332.9,948.6L899.9,472.9M336.2,952.5L903.1,476.8M339.4,956.3L906.3,480.6M342.6,960.1L909.5,484.4" stroke="#000" stroke-width="1.2" fill="none"/>
<path id="x1" d="M-139,434.3L384.3,-89M-135.2,438.1L388.1,-85.2M-131.5,441.8L391.8,-81.5M-127.7,445.6L395.6,-77.7M-124,449.3L399.3,-74M-120.3,453.1L403.1,-70.3M-116.5,456.8L406.8,-66.5M-112.8,460.6L410.6,-62.8M-109,464.3L414.3,-59M-105.3,468L418,-55.3M-101.5,471.8L421.8,-51.5M-97.8,475.5L425.5,-47.8M-94,479.3L429.3,-44M-90.3,483L433,-40.3M-86.5,486.8L436.8,-36.5M-82.8,490.5L440.5,-32.8M-79,494.3L444.3,-29M-75.3,498L448,-25.3M-71.5,501.8L451.8,-21.5M-67.8,505.5L455.5,-17.8M-64,509.3L459.3,-14M-60.3,513L463,-10.3M-56.5,516.8L466.8,-6.5M-52.8,520.5L470.5,-2.8M-49,524.3L474.3,1M-45.3,528L478,4.7M-41.6,531.8L481.8,8.4M-37.8,535.5L485.5,12.2M-34.1,539.3L489.3,15.9M-30.3,543L493,19.7M-26.6,546.7L496.7,23.4M-22.8,550.5L500.5,27.2M-19.1,554.2L504.2,30.9M-15.3,558L508,34.7M-11.6,561.7L511.7,38.4M-7.8,565.5L515.5,42.2M-4.1,569.2L519.2,45.9M-0.3,573L523,49.7M3.4,576.7L526.7,53.4M7.2,580.5L530.5,57.2M10.9,584.2L534.2,60.9M14.7,588L538,64.7M18.4,591.7L541.7,68.4M22.2,595.5L545.5,72.2M25.9,599.2L549.2,75.9M29.7,603L553,79.7M33.4,606.7L556.7,83.4M37.1,610.5L560.5,87.1M40.9,614.2L564.2,90.9M44.6,618L568,94.6M48.4,621.7L571.7,98.4M52.1,625.4L575.4,102.1M55.9,629.2L579.2,105.9M59.6,632.9L582.9,109.6M63.4,636.7L586.7,113.4M67.1,640.4L590.4,117.1M70.9,644.2L594.2,120.9M74.6,647.9L597.9,124.6M78.4,651.7L601.7,128.4M82.1,655.4L605.4,132.1M85.9,659.2L609.2,135.9M89.6,662.9L612.9,139.6M93.4,666.7L616.7,143.4M97.1,670.4L620.4,147.1M100.9,674.2L624.2,150.9M104.6,677.9L627.9,154.6M108.4,681.7L631.7,158.4M112.1,685.4L635.4,162.1M115.9,689.2L639.2,165.9M119.6,692.9L642.9,169.6M123.3,696.7L646.7,173.3M127.1,700.4L650.4,177.1M130.8,704.1L654.1,180.8M134.6,707.9L657.9,184.6M138.3,711.6L661.6,188.3M142.1,715.4L665.4,192.1M145.8,719.1L669.1,195.8M149.6,722.9L672.9,199.6M153.3,726.6L676.6,203.3M157.1,730.4L680.4,207.1M160.8,734.1L684.1,210.8M164.6,737.9L687.9,214.6M168.3,741.6L691.6,218.3M172.1,745.4L695.4,222.1M175.8,749.1L699.1,225.8M179.6,752.9L702.9,229.6M183.3,756.6L706.6,233.3M187.1,760.4L710.4,237.1M190.8,764.1L714.1,240.8M194.6,767.9L717.9,244.6M198.3,771.6L721.6,248.3M202,775.4L725.4,252M205.8,779.1L729.1,255.8M209.5,782.9L732.9,259.5M213.3,786.6L736.6,263.3M217,790.3L740.3,267M220.8,794.1L744.1,270.8M224.5,797.8L747.8,274.5M228.3,801.6L751.6,278.3M232,805.3L755.3,282M235.8,809.1L759.1,285.8M239.5,812.8L762.8,289.5M243.3,816.6L766.6,293.3M247,820.3L770.3,297M250.8,824.1L774.1,300.8M254.5,827.8L777.8,304.5M258.3,831.6L781.6,308.3M262,835.3L785.3,312M265.8,839.1L789.1,315.8M269.5,842.8L792.8,319.5M273.3,846.6L796.6,323.3M277,850.3L800.3,327M280.7,854.1L804.1,330.7M284.5,857.8L807.8,334.5M288.2,861.6L811.6,338.2M292,865.3L815.3,342M295.7,869L819,345.7M299.5,872.8L822.8,349.5M303.2,876.5L826.5,353.2M307,880.3L830.3,357M310.7,884L834,360.7M314.5,887.8L837.8,364.5M318.2,891.5L841.5,368.2M322,895.3L845.3,372M325.7,899L849,375.7M329.5,902.8L852.8,379.5M333.2,906.5L856.5,383.2M337,910.3L860.3,387M340.7,914L864,390.7M344.5,917.8L867.8,394.5M348.2,921.5L871.5,398.2M352,925.3L875.3,402M355.7,929L879,405.7M359.4,932.8L882.8,409.4M363.2,936.5L886.5,413.2M366.9,940.3L890.3,416.9M370.7,944L894,420.7M374.4,947.7L897.7,424.4M378.2,951.5L901.5,428.2M381.9,955.2L905.2,431.9M385.7,959L909,435.7" stroke="#000" stroke-width="1.4" fill="none"/>
<path id="x2" d="M385.7,-89L909,434.3M381.9,-85.2L905.2,438.1M378.2,-81.5L901.5,441.8M374.4,-77.7L897.7,445.6M370.7,-74L894,449.3M366.9,-70.3L890.3,453.1M363.2,-66.5L886.5,456.8M359.4,-62.8L882.8,460.6M355.7,-59L879,464.3M352,-55.3L875.3,468M348.2,-51.5L871.5,471.8M344.5,-47.8L867.8,475.5M340.7,-44L864,479.3M337,-40.3L860.3,483M333.2,-36.5L856.5,486.8M329.5,-32.8L852.8,490.5M325.7,-29L849,494.3M322,-25.3L845.3,498M318.2,-21.5L841.5,501.8M314.5,-17.8L837.8,505.5M310.7,-14L834,509.3M307,-10.3L830.3,513M303.2,-6.5L826.5,516.8M299.5,-2.8L822.8,520.5M295.7,1L819,524.3M292,4.7L815.3,528M288.2,8.4L811.6,531.8M284.5,12.2L807.8,535.5M280.7,15.9L804.1,539.3M277,19.7L800.3,543M273.3,23.4L796.6,546.7M269.5,27.2L792.8,550.5M265.8,30.9L789.1,554.2M262,34.7L785.3,558M258.3,38.4L781.6,561.7M254.5,42.2L777.8,565.5M250.8,45.9L774.1,569.2M247,49.7L770.3,573M243.3,53.4L766.6,576.7M239.5,57.2L762.8,580.5M235.8,60.9L759.1,584.2M232,64.7L755.3,588M228.3,68.4L751.6,591.7M224.5,72.2L747.8,595.5M220.8,75.9L744.1,599.2M217,79.7L740.3,603M213.3,83.4L736.6,606.7M209.5,87.1L732.9,610.5M205.8,90.9L729.1,614.2M202,94.6L725.4,618M198.3,98.4L721.6,621.7M194.6,102.1L717.9,625.4M190.8,105.9L714.1,629.2M187.1,109.6L710.4,632.9M183.3,113.4L706.6,636.7M179.6,117.1L702.9,640.4M175.8,120.9L699.1,644.2M172.1,124.6L695.4,647.9M168.3,128.4L691.6,651.7M164.6,132.1L687.9,655.4M160.8,135.9L684.1,659.2M157.1,139.6L680.4,662.9M153.3,143.4L676.6,666.7M149.6,147.1L672.9,670.4M145.8,150.9L669.1,674.2M142.1,154.6L665.4,677.9M138.3,158.4L661.6,681.7M134.6,162.1L657.9,685.4M130.8,165.9L654.1,689.2M127.1,169.6L650.4,692.9M123.3,173.3L646.7,696.7M119.6,177.1L642.9,700.4M115.9,180.8L639.2,704.1M112.1,184.6L635.4,707.9M108.4,188.3L631.7,711.6M104.6,192.1L627.9,715.4M100.9,195.8L624.2,719.1M97.1,199.6L620.4,722.9M93.4,203.3L616.7,726.6M89.6,207.1L612.9,730.4M85.9,210.8L609.2,734.1M82.1,214.6L605.4,737.9M78.4,218.3L601.7,741.6M74.6,222.1L597.9,745.4M70.9,225.8L594.2,749.1M67.1,229.6L590.4,752.9M63.4,233.3L586.7,756.6M59.6,237.1L582.9,760.4M55.9,240.8L579.2,764.1M52.1,244.6L575.4,767.9M48.4,248.3L571.7,771.6M44.6,252L568,775.4M40.9,255.8L564.2,779.1M37.1,259.5L560.5,782.9M33.4,263.3L556.7,786.6M29.7,267L553,790.3M25.9,270.8L549.2,794.1M22.2,274.5L545.5,797.8M18.4,278.3L541.7,801.6M14.7,282L538,805.3M10.9,285.8L534.2,809.1M7.2,289.5L530.5,812.8M3.4,293.3L526.7,816.6M-0.3,297L523,820.3M-4.1,300.8L519.2,824.1M-7.8,304.5L515.5,827.8M-11.6,308.3L511.7,831.6M-15.3,312L508,835.3M-19.1,315.8L504.2,839.1M-22.8,319.5L500.5,842.8M-26.6,323.3L496.7,846.6M-30.3,327L493,850.3M-34.1,330.7L489.3,854.1M-37.8,334.5L485.5,857.8M-41.6,338.2L481.8,861.6M-45.3,342L478,865.3M-49,345.7L474.3,869M-52.8,349.5L470.5,872.8M-56.5,353.2L466.8,876.5M-60.3,357L463,880.3M-64,360.7L459.3,884M-67.8,364.5L455.5,887.8M-71.5,368.2L451.8,891.5M-75.3,372L448,895.3M-79,375.7L444.3,899M-82.8,379.5L440.5,902.8M-86.5,383.2L436.8,906.5M-90.3,387L433,910.3M-94,390.7L429.3,914M-97.8,394.5L425.5,917.8M-101.5,398.2L421.8,921.5M-105.3,402L418,925.3M-109,405.7L414.3,929M-112.8,409.4L410.6,932.8M-116.5,413.2L406.8,936.5M-120.3,416.9L403.1,940.3M-124,420.7L399.3,944M-127.7,424.4L395.6,947.7M-131.5,428.2L391.8,951.5M-135.2,431.9L388.1,955.2M-139,435.7L384.3,959" stroke="#000" stroke-width="1.4" fill="none"/>
<clipPath id="c1"><path d="M233,156.2 L236.8,156.2 L241.6,156.2 L247.1,156.2 L253.4,156.2 L260.2,156.2 L267.6,156.2 L275.4,156.2 L283.4,156.2 L291.7,156.2 L300,156.2 L308.8,156.2 L318.4,156.2 L328.5,156.2 L339.1,156.2 L349.8,156.2 L360.6,156.2 L371.2,156.2 L381.4,156.2 L391.1,156.2 L400,156.2 L408.5,156.2 L416.9,156.2 L425.1,156.2 L433,156.2 L440.6,156.2 L447.8,156.2 L454.4,156.2 L460.3,156.2 L465.6,156.2 L470,156.2 L473.4,156.2 L475.8,156.2 L477.4,156.2 L478.3,156.2 L478.8,156.3 L479.7,156.5 L480.2,156.8 L479.4,156.4 L479.5,156.4 L480.2,156.5 L481.3,156.6 L482.6,156.7 L483.8,156.9 L485.1,157 L486.4,157.1 L487.7,157.3 L489,157.5 L490.2,157.7 L491.3,157.8 L492.4,158 L493.4,158.2 L494.3,158.4 L495.2,158.6 L496,158.8 L496.8,159.1 L497.5,159.3 L498.3,159.5 L499,159.8 L499.8,160 L500.7,160.3 L501.6,160.6 L502.6,160.9 L503.6,161.2 L504.6,161.6 L505.6,161.9 L506.7,162.3 L507.7,162.7 L508.8,163.1 L509.9,163.5 L510.9,164 L512,164.5 L513,165 L514.1,165.5 L515.1,166.1 L516.1,166.6 L517.1,167.2 L518.1,167.8 L519.1,168.4 L520.1,168.9 L521.1,169.5 L522.2,170.1 L523.2,170.7 L524.3,171.3 L525.4,172 L526.4,172.6 L527.5,173.2 L528.5,173.9 L529.5,174.5 L530.4,175 L531.2,175.5 L532,176 L532.6,176.4 L533.3,176.8 L533.8,177.2 L534.4,177.5 L534.9,177.9 L535.5,178.3 L536.1,178.7 L536.7,179.2 L537.4,179.7 L538.1,180.2 L538.9,180.8 L539.7,181.5 L540.6,182.2 L541.5,182.9 L542.3,183.6 L543.2,184.3 L544,185 L544.8,185.7 L545.6,186.4 L546.3,187.1 L547,187.8 L547.6,188.4 L548.2,189.1 L548.8,189.7 L549.4,190.4 L550,191 L550.6,191.7 L551.1,192.3 L551.7,193 L552.3,193.7 L553,194.4 L553.6,195.1 L554.2,195.9 L554.9,196.6 L555.5,197.3 L556.1,198 L556.7,198.7 L557.2,199.4 L557.8,200 L558.2,200.6 L558.7,201.1 L559.1,201.6 L559.4,202.1 L559.8,202.5 L560.2,203 L560.6,203.4 L561,204 L561.4,204.5 L561.8,205.1 L562.4,205.9 L563,206.7 L563.6,207.6 L564.2,208.5 L564.9,209.4 L565.5,210.3 L566.1,211.1 L566.6,211.9 L567.1,212.5 L567.4,213 L563.6,215.6 L563.3,215.1 L562.8,214.5 L562.3,213.8 L561.7,212.9 L561.1,212 L560.5,211.1 L559.8,210.2 L559.2,209.3 L558.7,208.6 L558.2,207.9 L557.7,207.3 L557.3,206.8 L556.9,206.3 L556.6,205.8 L556.2,205.4 L555.9,205 L555.5,204.5 L555.1,204.1 L554.7,203.5 L554.2,203 L553.7,202.4 L553.2,201.7 L552.6,201 L552,200.3 L551.4,199.6 L550.8,198.9 L550.1,198.1 L549.5,197.4 L548.9,196.7 L548.3,196 L547.7,195.4 L547.1,194.7 L546.5,194.1 L546,193.4 L545.4,192.8 L544.9,192.2 L544.3,191.6 L543.7,191 L543.1,190.4 L542.4,189.8 L541.7,189.1 L541,188.5 L540.2,187.8 L539.4,187.1 L538.5,186.4 L537.7,185.8 L536.9,185.1 L536.1,184.5 L535.3,183.9 L534.6,183.3 L534,182.9 L533.4,182.4 L532.9,182.1 L532.4,181.7 L531.9,181.4 L531.4,181.1 L530.8,180.7 L530.2,180.3 L529.5,179.9 L528.8,179.5 L527.9,178.9 L527.1,178.4 L526.1,177.8 L525.1,177.2 L524.1,176.6 L523,175.9 L522,175.3 L520.9,174.7 L519.9,174.1 L518.9,173.5 L517.9,172.9 L516.9,172.3 L515.9,171.8 L514.9,171.2 L513.9,170.7 L512.9,170.1 L511.9,169.6 L511,169.1 L510,168.6 L509.1,168.2 L508.1,167.8 L507.1,167.4 L506.1,167 L505.1,166.6 L504.1,166.3 L503.1,165.9 L502.1,165.6 L501.2,165.3 L500.2,165 L499.3,164.7 L498.4,164.4 L497.6,164.1 L496.9,163.9 L496.2,163.7 L495.5,163.5 L494.8,163.3 L494.1,163.1 L493.3,162.9 L492.5,162.7 L491.6,162.6 L490.6,162.4 L489.5,162.2 L488.3,162 L487.1,161.9 L485.8,161.7 L484.6,161.6 L483.3,161.4 L482.1,161.3 L480.9,161.2 L479.8,161.1 L478.9,161 L478.3,160.9 L477.3,160.4 L477.7,160.7 L478.5,160.8 L478.2,160.8 L477.3,160.8 L475.8,160.8 L473.4,160.8 L470,160.8 L465.6,160.8 L460.3,160.8 L454.4,160.8 L447.8,160.8 L440.6,160.8 L433,160.8 L425.1,160.8 L416.9,160.8 L408.5,160.8 L400,160.8 L391.1,160.8 L381.4,160.8 L371.2,160.8 L360.6,160.8 L349.8,160.8 L339.1,160.8 L328.5,160.8 L318.4,160.8 L308.8,160.8 L300,160.8 L291.7,160.8 L283.4,160.8 L275.4,160.8 L267.6,160.8 L260.2,160.8 L253.4,160.8 L247.1,160.8 L241.6,160.8 L236.8,160.8 L233,160.8 Z"/></clipPath>
<clipPath id="c2"><path d="M241,704.4 L244.3,704.4 L248.4,704.4 L253.1,704.4 L258.4,704.4 L264.2,704.4 L270.6,704.4 L277.4,704.4 L284.6,704.4 L292.2,704.4 L300,704.4 L308.5,704.4 L317.9,704.4 L327.9,704.4 L338.5,704.4 L349.3,704.4 L360.2,704.4 L370.9,704.4 L381.3,704.4 L391,704.4 L400,704.4 L408.5,704.4 L416.9,704.4 L425.1,704.4 L433,704.4 L440.6,704.4 L447.8,704.4 L454.4,704.4 L460.3,704.4 L465.6,704.4 L470,704.4 L473.4,704.4 L475.7,704.4 L477.1,704.4 L477.9,704.5 L478.3,704.5 L477.1,704.8 L477.3,704.6 L477.9,704.5 L478.6,704.3 L479.8,704.2 L481.4,704 L483.1,703.9 L485,703.7 L487,703.4 L489.1,703.2 L491.2,702.9 L493.3,702.6 L495.4,702.2 L497.5,701.8 L499.5,701.4 L501.4,700.9 L503.4,700.3 L505.4,699.8 L507.3,699.2 L509.3,698.6 L511.2,697.9 L513.2,697.2 L515.1,696.4 L517,695.5 L519,694.6 L521,693.6 L523,692.6 L525,691.5 L527.1,690.3 L529.1,689 L531.1,687.8 L533.1,686.4 L534.9,685.1 L536.8,683.7 L538.5,682.3 L540.2,680.8 L541.8,679.2 L543.4,677.5 L545,675.7 L546.5,673.9 L548,672.1 L549.4,670.3 L550.7,668.6 L552,666.9 L553.1,665.4 L554.2,663.9 L555.1,662.4 L555.9,661 L556.7,659.5 L557.4,658.1 L558.1,656.8 L558.7,655.5 L559.3,654.3 L559.9,653.1 L560.5,652.1 L561,651.2 L561.3,650.6 L561.6,650 L561.9,649.5 L562.2,648.9 L562.5,648.4 L562.9,647.8 L563.4,647.3 L564,646.8 L564.7,646.3 L565.6,645.7 L566.6,645.3 L567.7,644.8 L568.8,644.4 L570,644 L571.1,643.6 L572.1,643.3 L573,643 L573.7,642.7 L574.2,642.5 L575.8,646.9 L575.2,647.1 L574.4,647.3 L573.5,647.6 L572.5,648 L571.5,648.3 L570.4,648.7 L569.4,649.1 L568.5,649.4 L567.8,649.8 L567.3,650.1 L566.9,650.4 L566.6,650.7 L566.4,650.8 L566.3,651 L566.2,651.2 L566,651.6 L565.7,652.1 L565.4,652.7 L565,653.5 L564.5,654.3 L564,655.3 L563.4,656.3 L562.8,657.5 L562.2,658.8 L561.5,660.2 L560.8,661.7 L559.9,663.2 L559,664.8 L558,666.4 L556.9,668 L555.7,669.7 L554.4,671.4 L553,673.2 L551.6,675 L550,676.9 L548.5,678.7 L546.8,680.6 L545.1,682.4 L543.3,684.1 L541.5,685.7 L539.6,687.3 L537.7,688.8 L535.7,690.2 L533.6,691.6 L531.5,693 L529.4,694.2 L527.3,695.5 L525.2,696.6 L523.1,697.7 L521,698.8 L519,699.7 L516.9,700.6 L514.8,701.5 L512.8,702.2 L510.7,702.9 L508.7,703.6 L506.6,704.2 L504.6,704.8 L502.6,705.3 L500.5,705.8 L498.4,706.3 L496.3,706.7 L494.1,707.1 L491.8,707.5 L489.7,707.7 L487.5,708 L485.5,708.2 L483.6,708.4 L481.8,708.6 L480.2,708.8 L479.2,708.9 L478.7,709 L479.1,708.9 L479.3,708.8 L478,709.1 L477.7,709.1 L477,709 L475.7,709 L473.4,709 L470,709 L465.6,709 L460.3,709 L454.4,709 L447.8,709 L440.6,709 L433,709 L425.1,709 L416.9,709 L408.5,709 L400,709 L391,709 L381.3,709 L370.9,709 L360.2,709 L349.3,709 L338.5,709 L327.9,709 L317.9,709 L308.5,709 L300,709 L292.2,709 L284.6,709 L277.4,709 L270.6,709 L264.2,709 L258.4,709 L253.1,709 L248.4,709 L244.3,709 L241,709 Z"/></clipPath>
<clipPath id="c3"><path d="M211,207 C218,206 228,208 236,216 C243,223 248,230 249.6,236 L249.6,366.4 L234.2,366.4 L234.2,357.6 L194,357.6 L194,344 L220,343.6 C227,341.5 233,336 237.6,328 L238,322 L238,246 C236,236 230,228 222,222 C217,219 213,218 210,218 Z"/></clipPath>
<clipPath id="cArc"><rect x="205" y="200" width="50" height="37"/></clipPath>
<clipPath id="c4"><path d="M211,207 C218,206 228,208 236,216 C243,223 248,230 249.6,236 L249.6,366.4 L234.2,366.4 L234.2,357.6 L194,357.6 L194,344 L220,343.6 C227,341.5 233,336 237.6,328 L238,322 L238,246 C236,236 230,228 222,222 C217,219 213,218 210,218 Z"/></clipPath>
<clipPath id="c5"><path d="M201.4,358 H234.2 V366.4 H201.4 Z"/></clipPath>
<clipPath id="c6"><path d="M201.4,382.4 H234.2 V392.8 H201.4 Z"/></clipPath>
<clipPath id="c7"><path d="M260,273 H275 V370.4 H260 Z"/></clipPath>
<clipPath id="c8"><path d="M250,273 H260 V326.6 H250 Z"/></clipPath>
<clipPath id="c9"><path d="M250,273 H260 V326.6 H250 Z"/></clipPath>
<clipPath id="c10"><path d="M275,273 H284.6 V326 H275 Z"/></clipPath>
<clipPath id="c11"><path d="M275,273 H284.6 V326 H275 Z"/></clipPath>
<clipPath id="c12"><path d="M284.6,236 H306 V361.6 H284.6 Z"/></clipPath>
<clipPath id="c13"><path d="M306,236 L367,236 L393.6,264 L393.6,361.6 L306,361.6 Z"/></clipPath>
<clipPath id="c14"><path d="M261,362.6 H320 V370.4 H261 Z"/></clipPath>
<clipPath id="c15"><path d="M259.6,372.3 L320,372.3 L320,385 L259.6,385 Q256.4,385 256.4,382 L256.4,375.3 Q256.4,372.3 259.6,372.3 Z"/></clipPath>
<clipPath id="c16"><path d="M261.4,401 H313.4 V404.2 H261.4 Z"/></clipPath>
<clipPath id="c17"><path d="M389.6,208.6 L419,208.6 L419,218 C412,218 402,219 399.5,224 L399.5,329 L402.5,329.6 L419,333.4 L419,340 L393.6,340 L393.6,264 L392,262 L392,236 L389.6,236 Z"/></clipPath>
<clipPath id="c18"><path d="M363,208.6 H372 V231 H363 Z"/></clipPath>
<clipPath id="c19"><path d="M307,455.4 C311,457.4 315,457.6 320,457.6 L356,457.6 C368,458 378,466 378,478 C378,490 368,500.6 356,500.6 L307,500.6 Z"/></clipPath>
<clipPath id="c20"><path d="M251,548.6 L251,540.6 C257,541.6 262,541.6 268,541 L284,541 C288,540 288,536.4 294,536.4 L340,537 C352,537.4 362,533.6 374,533.2 C382,533.2 388,536 393.6,538 L393.6,548.6 Z"/></clipPath>
<clipPath id="c21"><path d="M251,567 L393.6,567 L393.6,578.6 C380,579 365,579.4 350,577 C335,574 320,572.6 306,572.4 L262,572.4 C257,572.4 253,572 251,574 Z"/></clipPath>
<clipPath id="c22"><path d="M458.6,252 C462,253 467,256 470,261 L475,276 L483,310 L489,338 L493.6,356 C496,366 502,375 514,378.6 L533.6,379 L533.6,403 L497,403 L497,398 C494,394 490,393 484,393 L464,393 L462,393 L462,379 L475,379 C480,378.6 483,376 483.4,369 C483.6,362 482.8,356 481.6,350 L473,310 L464,276 Z"/></clipPath>
<clipPath id="c23"><path d="M458.6,252 C462,253 467,256 470,261 L475,276 L483,310 L489,338 L493.6,356 C496,366 502,375 514,378.6 L533.6,379 L533.6,403 L497,403 L497,398 C494,394 490,393 484,393 L464,393 L462,393 L462,379 L475,379 C480,378.6 483,376 483.4,369 C483.6,362 482.8,356 481.6,350 L473,310 L464,276 Z"/></clipPath>
<clipPath id="c24"><path d="M481,395 C486,398 488,410.4 499,410.4 L539,410.4 L539,403 L497,403 L497,398 C494,394.6 490,393.4 484,393.4 Z"/></clipPath>
<clipPath id="c25"><path d="M464,469.6 L533.6,469.6 L533.6,484 L512,484.6 C503,487 500,492 498,498 L489,530 L479,570 L471.6,600 C470,606 466,610 459.6,612 L459.6,607 L461.4,600 L469,570 L478.6,530 L484,500 C484,492 480,486.4 472,484.6 L464,484.6 Z"/></clipPath>
<clipPath id="c26"><path d="M464,469.6 L533.6,469.6 L533.6,484 L512,484.6 C503,487 500,492 498,498 L489,530 L479,570 L471.6,600 C470,606 466,610 459.6,612 L459.6,607 L461.4,600 L469,570 L478.6,530 L484,500 C484,492 480,486.4 472,484.6 L464,484.6 Z"/></clipPath>
</defs>
<g id="housing" stroke="#000" fill="none">
<path d="M233,156.2 L236.8,156.2 L241.6,156.2 L247.1,156.2 L253.4,156.2 L260.2,156.2 L267.6,156.2 L275.4,156.2 L283.4,156.2 L291.7,156.2 L300,156.2 L308.8,156.2 L318.4,156.2 L328.5,156.2 L339.1,156.2 L349.8,156.2 L360.6,156.2 L371.2,156.2 L381.4,156.2 L391.1,156.2 L400,156.2 L408.5,156.2 L416.9,156.2 L425.1,156.2 L433,156.2 L440.6,156.2 L447.8,156.2 L454.4,156.2 L460.3,156.2 L465.6,156.2 L470,156.2 L473.4,156.2 L475.8,156.2 L477.4,156.2 L478.3,156.2 L478.8,156.3 L479.7,156.5 L480.2,156.8 L479.4,156.4 L479.5,156.4 L480.2,156.5 L481.3,156.6 L482.6,156.7 L483.8,156.9 L485.1,157 L486.4,157.1 L487.7,157.3 L489,157.5 L490.2,157.7 L491.3,157.8 L492.4,158 L493.4,158.2 L494.3,158.4 L495.2,158.6 L496,158.8 L496.8,159.1 L497.5,159.3 L498.3,159.5 L499,159.8 L499.8,160 L500.7,160.3 L501.6,160.6 L502.6,160.9 L503.6,161.2 L504.6,161.6 L505.6,161.9 L506.7,162.3 L507.7,162.7 L508.8,163.1 L509.9,163.5 L510.9,164 L512,164.5 L513,165 L514.1,165.5 L515.1,166.1 L516.1,166.6 L517.1,167.2 L518.1,167.8 L519.1,168.4 L520.1,168.9 L521.1,169.5 L522.2,170.1 L523.2,170.7 L524.3,171.3 L525.4,172 L526.4,172.6 L527.5,173.2 L528.5,173.9 L529.5,174.5 L530.4,175 L531.2,175.5 L532,176 L532.6,176.4 L533.3,176.8 L533.8,177.2 L534.4,177.5 L534.9,177.9 L535.5,178.3 L536.1,178.7 L536.7,179.2 L537.4,179.7 L538.1,180.2 L538.9,180.8 L539.7,181.5 L540.6,182.2 L541.5,182.9 L542.3,183.6 L543.2,184.3 L544,185 L544.8,185.7 L545.6,186.4 L546.3,187.1 L547,187.8 L547.6,188.4 L548.2,189.1 L548.8,189.7 L549.4,190.4 L550,191 L550.6,191.7 L551.1,192.3 L551.7,193 L552.3,193.7 L553,194.4 L553.6,195.1 L554.2,195.9 L554.9,196.6 L555.5,197.3 L556.1,198 L556.7,198.7 L557.2,199.4 L557.8,200 L558.2,200.6 L558.7,201.1 L559.1,201.6 L559.4,202.1 L559.8,202.5 L560.2,203 L560.6,203.4 L561,204 L561.4,204.5 L561.8,205.1 L562.4,205.9 L563,206.7 L563.6,207.6 L564.2,208.5 L564.9,209.4 L565.5,210.3 L566.1,211.1 L566.6,211.9 L567.1,212.5 L567.4,213 L563.6,215.6 L563.3,215.1 L562.8,214.5 L562.3,213.8 L561.7,212.9 L561.1,212 L560.5,211.1 L559.8,210.2 L559.2,209.3 L558.7,208.6 L558.2,207.9 L557.7,207.3 L557.3,206.8 L556.9,206.3 L556.6,205.8 L556.2,205.4 L555.9,205 L555.5,204.5 L555.1,204.1 L554.7,203.5 L554.2,203 L553.7,202.4 L553.2,201.7 L552.6,201 L552,200.3 L551.4,199.6 L550.8,198.9 L550.1,198.1 L549.5,197.4 L548.9,196.7 L548.3,196 L547.7,195.4 L547.1,194.7 L546.5,194.1 L546,193.4 L545.4,192.8 L544.9,192.2 L544.3,191.6 L543.7,191 L543.1,190.4 L542.4,189.8 L541.7,189.1 L541,188.5 L540.2,187.8 L539.4,187.1 L538.5,186.4 L537.7,185.8 L536.9,185.1 L536.1,184.5 L535.3,183.9 L534.6,183.3 L534,182.9 L533.4,182.4 L532.9,182.1 L532.4,181.7 L531.9,181.4 L531.4,181.1 L530.8,180.7 L530.2,180.3 L529.5,179.9 L528.8,179.5 L527.9,178.9 L527.1,178.4 L526.1,177.8 L525.1,177.2 L524.1,176.6 L523,175.9 L522,175.3 L520.9,174.7 L519.9,174.1 L518.9,173.5 L517.9,172.9 L516.9,172.3 L515.9,171.8 L514.9,171.2 L513.9,170.7 L512.9,170.1 L511.9,169.6 L511,169.1 L510,168.6 L509.1,168.2 L508.1,167.8 L507.1,167.4 L506.1,167 L505.1,166.6 L504.1,166.3 L503.1,165.9 L502.1,165.6 L501.2,165.3 L500.2,165 L499.3,164.7 L498.4,164.4 L497.6,164.1 L496.9,163.9 L496.2,163.7 L495.5,163.5 L494.8,163.3 L494.1,163.1 L493.3,162.9 L492.5,162.7 L491.6,162.6 L490.6,162.4 L489.5,162.2 L488.3,162 L487.1,161.9 L485.8,161.7 L484.6,161.6 L483.3,161.4 L482.1,161.3 L480.9,161.2 L479.8,161.1 L478.9,161 L478.3,160.9 L477.3,160.4 L477.7,160.7 L478.5,160.8 L478.2,160.8 L477.3,160.8 L475.8,160.8 L473.4,160.8 L470,160.8 L465.6,160.8 L460.3,160.8 L454.4,160.8 L447.8,160.8 L440.6,160.8 L433,160.8 L425.1,160.8 L416.9,160.8 L408.5,160.8 L400,160.8 L391.1,160.8 L381.4,160.8 L371.2,160.8 L360.6,160.8 L349.8,160.8 L339.1,160.8 L328.5,160.8 L318.4,160.8 L308.8,160.8 L300,160.8 L291.7,160.8 L283.4,160.8 L275.4,160.8 L267.6,160.8 L260.2,160.8 L253.4,160.8 L247.1,160.8 L241.6,160.8 L236.8,160.8 L233,160.8 Z" fill="#fff" stroke="none"/>
<use href="#hb" clip-path="url(#c1)"/>
<path d="M233,156.2 L236.8,156.2 L241.6,156.2 L247.1,156.2 L253.4,156.2 L260.2,156.2 L267.6,156.2 L275.4,156.2 L283.4,156.2 L291.7,156.2 L300,156.2 L308.8,156.2 L318.4,156.2 L328.5,156.2 L339.1,156.2 L349.8,156.2 L360.6,156.2 L371.2,156.2 L381.4,156.2 L391.1,156.2 L400,156.2 L408.5,156.2 L416.9,156.2 L425.1,156.2 L433,156.2 L440.6,156.2 L447.8,156.2 L454.4,156.2 L460.3,156.2 L465.6,156.2 L470,156.2 L473.4,156.2 L475.8,156.2 L477.4,156.2 L478.3,156.2 L478.8,156.3 L479.7,156.5 L480.2,156.8 L479.4,156.4 L479.5,156.4 L480.2,156.5 L481.3,156.6 L482.6,156.7 L483.8,156.9 L485.1,157 L486.4,157.1 L487.7,157.3 L489,157.5 L490.2,157.7 L491.3,157.8 L492.4,158 L493.4,158.2 L494.3,158.4 L495.2,158.6 L496,158.8 L496.8,159.1 L497.5,159.3 L498.3,159.5 L499,159.8 L499.8,160 L500.7,160.3 L501.6,160.6 L502.6,160.9 L503.6,161.2 L504.6,161.6 L505.6,161.9 L506.7,162.3 L507.7,162.7 L508.8,163.1 L509.9,163.5 L510.9,164 L512,164.5 L513,165 L514.1,165.5 L515.1,166.1 L516.1,166.6 L517.1,167.2 L518.1,167.8 L519.1,168.4 L520.1,168.9 L521.1,169.5 L522.2,170.1 L523.2,170.7 L524.3,171.3 L525.4,172 L526.4,172.6 L527.5,173.2 L528.5,173.9 L529.5,174.5 L530.4,175 L531.2,175.5 L532,176 L532.6,176.4 L533.3,176.8 L533.8,177.2 L534.4,177.5 L534.9,177.9 L535.5,178.3 L536.1,178.7 L536.7,179.2 L537.4,179.7 L538.1,180.2 L538.9,180.8 L539.7,181.5 L540.6,182.2 L541.5,182.9 L542.3,183.6 L543.2,184.3 L544,185 L544.8,185.7 L545.6,186.4 L546.3,187.1 L547,187.8 L547.6,188.4 L548.2,189.1 L548.8,189.7 L549.4,190.4 L550,191 L550.6,191.7 L551.1,192.3 L551.7,193 L552.3,193.7 L553,194.4 L553.6,195.1 L554.2,195.9 L554.9,196.6 L555.5,197.3 L556.1,198 L556.7,198.7 L557.2,199.4 L557.8,200 L558.2,200.6 L558.7,201.1 L559.1,201.6 L559.4,202.1 L559.8,202.5 L560.2,203 L560.6,203.4 L561,204 L561.4,204.5 L561.8,205.1 L562.4,205.9 L563,206.7 L563.6,207.6 L564.2,208.5 L564.9,209.4 L565.5,210.3 L566.1,211.1 L566.6,211.9 L567.1,212.5 L567.4,213" stroke-width="2.3" fill="none" />
<path d="M233,160.8 L236.8,160.8 L241.6,160.8 L247.1,160.8 L253.4,160.8 L260.2,160.8 L267.6,160.8 L275.4,160.8 L283.4,160.8 L291.7,160.8 L300,160.8 L308.8,160.8 L318.4,160.8 L328.5,160.8 L339.1,160.8 L349.8,160.8 L360.6,160.8 L371.2,160.8 L381.4,160.8 L391.1,160.8 L400,160.8 L408.5,160.8 L416.9,160.8 L425.1,160.8 L433,160.8 L440.6,160.8 L447.8,160.8 L454.4,160.8 L460.3,160.8 L465.6,160.8 L470,160.8 L473.4,160.8 L475.8,160.8 L477.3,160.8 L478.2,160.8 L478.5,160.8 L477.7,160.7 L477.3,160.4 L478.3,160.9 L478.9,161 L479.8,161.1 L480.9,161.2 L482.1,161.3 L483.3,161.4 L484.6,161.6 L485.8,161.7 L487.1,161.9 L488.3,162 L489.5,162.2 L490.6,162.4 L491.6,162.6 L492.5,162.7 L493.3,162.9 L494.1,163.1 L494.8,163.3 L495.5,163.5 L496.2,163.7 L496.9,163.9 L497.6,164.1 L498.4,164.4 L499.3,164.7 L500.2,165 L501.2,165.3 L502.1,165.6 L503.1,165.9 L504.1,166.3 L505.1,166.6 L506.1,167 L507.1,167.4 L508.1,167.8 L509.1,168.2 L510,168.6 L511,169.1 L511.9,169.6 L512.9,170.1 L513.9,170.7 L514.9,171.2 L515.9,171.8 L516.9,172.3 L517.9,172.9 L518.9,173.5 L519.9,174.1 L520.9,174.7 L522,175.3 L523,175.9 L524.1,176.6 L525.1,177.2 L526.1,177.8 L527.1,178.4 L527.9,178.9 L528.8,179.5 L529.5,179.9 L530.2,180.3 L530.8,180.7 L531.4,181.1 L531.9,181.4 L532.4,181.7 L532.9,182.1 L533.4,182.4 L534,182.9 L534.6,183.3 L535.3,183.9 L536.1,184.5 L536.9,185.1 L537.7,185.8 L538.5,186.4 L539.4,187.1 L540.2,187.8 L541,188.5 L541.7,189.1 L542.4,189.8 L543.1,190.4 L543.7,191 L544.3,191.6 L544.9,192.2 L545.4,192.8 L546,193.4 L546.5,194.1 L547.1,194.7 L547.7,195.4 L548.3,196 L548.9,196.7 L549.5,197.4 L550.1,198.1 L550.8,198.9 L551.4,199.6 L552,200.3 L552.6,201 L553.2,201.7 L553.7,202.4 L554.2,203 L554.7,203.5 L555.1,204.1 L555.5,204.5 L555.9,205 L556.2,205.4 L556.6,205.8 L556.9,206.3 L557.3,206.8 L557.7,207.3 L558.2,207.9 L558.7,208.6 L559.2,209.3 L559.8,210.2 L560.5,211.1 L561.1,212 L561.7,212.9 L562.3,213.8 L562.8,214.5 L563.3,215.1 L563.6,215.6" stroke-width="1.8" fill="none" />
<path d="M229,157 L236.5,164 L229,164 Z" fill="#fff" stroke="none"/>
<path d="M229,153 L231.2,153 L231.2,157.5 L229,157.5 Z" fill="#fff" stroke="none"/>
<path d="M231.2,155.9 L235.4,160.5" stroke-width="1.2" fill="none" />
<path d="M564,211.4 L575.8,217.5 L575.8,222" stroke-width="1.4" fill="none" />
<path d="M561.4,216.4 L569,220" stroke-width="1.4" fill="none" />
<rect x="569.6" y="218" width="6.5" height="425" fill="#000" stroke="none"/>
<line x1="575.7" y1="217.5" x2="575.7" y2="646" stroke-width="1.1" />
<path d="M241,704.4 L244.3,704.4 L248.4,704.4 L253.1,704.4 L258.4,704.4 L264.2,704.4 L270.6,704.4 L277.4,704.4 L284.6,704.4 L292.2,704.4 L300,704.4 L308.5,704.4 L317.9,704.4 L327.9,704.4 L338.5,704.4 L349.3,704.4 L360.2,704.4 L370.9,704.4 L381.3,704.4 L391,704.4 L400,704.4 L408.5,704.4 L416.9,704.4 L425.1,704.4 L433,704.4 L440.6,704.4 L447.8,704.4 L454.4,704.4 L460.3,704.4 L465.6,704.4 L470,704.4 L473.4,704.4 L475.7,704.4 L477.1,704.4 L477.9,704.5 L478.3,704.5 L477.1,704.8 L477.3,704.6 L477.9,704.5 L478.6,704.3 L479.8,704.2 L481.4,704 L483.1,703.9 L485,703.7 L487,703.4 L489.1,703.2 L491.2,702.9 L493.3,702.6 L495.4,702.2 L497.5,701.8 L499.5,701.4 L501.4,700.9 L503.4,700.3 L505.4,699.8 L507.3,699.2 L509.3,698.6 L511.2,697.9 L513.2,697.2 L515.1,696.4 L517,695.5 L519,694.6 L521,693.6 L523,692.6 L525,691.5 L527.1,690.3 L529.1,689 L531.1,687.8 L533.1,686.4 L534.9,685.1 L536.8,683.7 L538.5,682.3 L540.2,680.8 L541.8,679.2 L543.4,677.5 L545,675.7 L546.5,673.9 L548,672.1 L549.4,670.3 L550.7,668.6 L552,666.9 L553.1,665.4 L554.2,663.9 L555.1,662.4 L555.9,661 L556.7,659.5 L557.4,658.1 L558.1,656.8 L558.7,655.5 L559.3,654.3 L559.9,653.1 L560.5,652.1 L561,651.2 L561.3,650.6 L561.6,650 L561.9,649.5 L562.2,648.9 L562.5,648.4 L562.9,647.8 L563.4,647.3 L564,646.8 L564.7,646.3 L565.6,645.7 L566.6,645.3 L567.7,644.8 L568.8,644.4 L570,644 L571.1,643.6 L572.1,643.3 L573,643 L573.7,642.7 L574.2,642.5 L575.8,646.9 L575.2,647.1 L574.4,647.3 L573.5,647.6 L572.5,648 L571.5,648.3 L570.4,648.7 L569.4,649.1 L568.5,649.4 L567.8,649.8 L567.3,650.1 L566.9,650.4 L566.6,650.7 L566.4,650.8 L566.3,651 L566.2,651.2 L566,651.6 L565.7,652.1 L565.4,652.7 L565,653.5 L564.5,654.3 L564,655.3 L563.4,656.3 L562.8,657.5 L562.2,658.8 L561.5,660.2 L560.8,661.7 L559.9,663.2 L559,664.8 L558,666.4 L556.9,668 L555.7,669.7 L554.4,671.4 L553,673.2 L551.6,675 L550,676.9 L548.5,678.7 L546.8,680.6 L545.1,682.4 L543.3,684.1 L541.5,685.7 L539.6,687.3 L537.7,688.8 L535.7,690.2 L533.6,691.6 L531.5,693 L529.4,694.2 L527.3,695.5 L525.2,696.6 L523.1,697.7 L521,698.8 L519,699.7 L516.9,700.6 L514.8,701.5 L512.8,702.2 L510.7,702.9 L508.7,703.6 L506.6,704.2 L504.6,704.8 L502.6,705.3 L500.5,705.8 L498.4,706.3 L496.3,706.7 L494.1,707.1 L491.8,707.5 L489.7,707.7 L487.5,708 L485.5,708.2 L483.6,708.4 L481.8,708.6 L480.2,708.8 L479.2,708.9 L478.7,709 L479.1,708.9 L479.3,708.8 L478,709.1 L477.7,709.1 L477,709 L475.7,709 L473.4,709 L470,709 L465.6,709 L460.3,709 L454.4,709 L447.8,709 L440.6,709 L433,709 L425.1,709 L416.9,709 L408.5,709 L400,709 L391,709 L381.3,709 L370.9,709 L360.2,709 L349.3,709 L338.5,709 L327.9,709 L317.9,709 L308.5,709 L300,709 L292.2,709 L284.6,709 L277.4,709 L270.6,709 L264.2,709 L258.4,709 L253.1,709 L248.4,709 L244.3,709 L241,709 Z" fill="#fff" stroke="none"/>
<use href="#hb" clip-path="url(#c2)"/>
<path d="M241,704.4 L244.3,704.4 L248.4,704.4 L253.1,704.4 L258.4,704.4 L264.2,704.4 L270.6,704.4 L277.4,704.4 L284.6,704.4 L292.2,704.4 L300,704.4 L308.5,704.4 L317.9,704.4 L327.9,704.4 L338.5,704.4 L349.3,704.4 L360.2,704.4 L370.9,704.4 L381.3,704.4 L391,704.4 L400,704.4 L408.5,704.4 L416.9,704.4 L425.1,704.4 L433,704.4 L440.6,704.4 L447.8,704.4 L454.4,704.4 L460.3,704.4 L465.6,704.4 L470,704.4 L473.4,704.4 L475.7,704.4 L477.1,704.4 L477.9,704.5 L478.3,704.5 L477.1,704.8 L477.3,704.6 L477.9,704.5 L478.6,704.3 L479.8,704.2 L481.4,704 L483.1,703.9 L485,703.7 L487,703.4 L489.1,703.2 L491.2,702.9 L493.3,702.6 L495.4,702.2 L497.5,701.8 L499.5,701.4 L501.4,700.9 L503.4,700.3 L505.4,699.8 L507.3,699.2 L509.3,698.6 L511.2,697.9 L513.2,697.2 L515.1,696.4 L517,695.5 L519,694.6 L521,693.6 L523,692.6 L525,691.5 L527.1,690.3 L529.1,689 L531.1,687.8 L533.1,686.4 L534.9,685.1 L536.8,683.7 L538.5,682.3 L540.2,680.8 L541.8,679.2 L543.4,677.5 L545,675.7 L546.5,673.9 L548,672.1 L549.4,670.3 L550.7,668.6 L552,666.9 L553.1,665.4 L554.2,663.9 L555.1,662.4 L555.9,661 L556.7,659.5 L557.4,658.1 L558.1,656.8 L558.7,655.5 L559.3,654.3 L559.9,653.1 L560.5,652.1 L561,651.2 L561.3,650.6 L561.6,650 L561.9,649.5 L562.2,648.9 L562.5,648.4 L562.9,647.8 L563.4,647.3 L564,646.8 L564.7,646.3 L565.6,645.7 L566.6,645.3 L567.7,644.8 L568.8,644.4 L570,644 L571.1,643.6 L572.1,643.3 L573,643 L573.7,642.7 L574.2,642.5" stroke-width="2.3" fill="none" />
<path d="M241,709 L244.3,709 L248.4,709 L253.1,709 L258.4,709 L264.2,709 L270.6,709 L277.4,709 L284.6,709 L292.2,709 L300,709 L308.5,709 L317.9,709 L327.9,709 L338.5,709 L349.3,709 L360.2,709 L370.9,709 L381.3,709 L391,709 L400,709 L408.5,709 L416.9,709 L425.1,709 L433,709 L440.6,709 L447.8,709 L454.4,709 L460.3,709 L465.6,709 L470,709 L473.4,709 L475.7,709 L477,709 L477.7,709.1 L478,709.1 L479.3,708.8 L479.1,708.9 L478.7,709 L479.2,708.9 L480.2,708.8 L481.8,708.6 L483.6,708.4 L485.5,708.2 L487.5,708 L489.7,707.7 L491.8,707.5 L494.1,707.1 L496.3,706.7 L498.4,706.3 L500.5,705.8 L502.6,705.3 L504.6,704.8 L506.6,704.2 L508.7,703.6 L510.7,702.9 L512.8,702.2 L514.8,701.5 L516.9,700.6 L519,699.7 L521,698.8 L523.1,697.7 L525.2,696.6 L527.3,695.5 L529.4,694.2 L531.5,693 L533.6,691.6 L535.7,690.2 L537.7,688.8 L539.6,687.3 L541.5,685.7 L543.3,684.1 L545.1,682.4 L546.8,680.6 L548.5,678.7 L550,676.9 L551.6,675 L553,673.2 L554.4,671.4 L555.7,669.7 L556.9,668 L558,666.4 L559,664.8 L559.9,663.2 L560.8,661.7 L561.5,660.2 L562.2,658.8 L562.8,657.5 L563.4,656.3 L564,655.3 L564.5,654.3 L565,653.5 L565.4,652.7 L565.7,652.1 L566,651.6 L566.2,651.2 L566.3,651 L566.4,650.8 L566.6,650.7 L566.9,650.4 L567.3,650.1 L567.8,649.8 L568.5,649.4 L569.4,649.1 L570.4,648.7 L571.5,648.3 L572.5,648 L573.5,647.6 L574.4,647.3 L575.2,647.1 L575.8,646.9" stroke-width="1.8" fill="none" />
<path d="M576,642 L576,647 L568,649.5" stroke-width="1.4" fill="none" />
<path d="M236,700 L240.6,704 L247,711 L236,711 Z" fill="#fff" stroke="none"/>
<path d="M240,704 L246.4,709" stroke-width="1.2" fill="none" />
<path d="M235,160 C235.7,161.3 238.7,165.3 239,168 C239.3,170.7 238.5,173.2 237,176 C235.5,178.8 232.2,182.7 230,185 C227.8,187.3 226.5,187.5 224,190 C221.5,192.5 217.1,197.3 215,200 C212.9,202.7 212.7,202.9 211.7,206.4 C210.7,209.9 209.7,214.9 209.2,221 C208.7,227.1 209,235.8 208.5,243 C208,250.2 207.4,256.9 206.3,264 C205.2,271.1 203.4,279.1 202,285.5 C200.6,291.9 199.4,295.5 197.8,302.6 C196.2,309.7 194,320.1 192.4,328 C190.8,335.9 189.4,343.7 188.2,350 C187,356.3 186.2,360.5 185.4,366 C184.6,371.5 183.8,377.3 183.5,383 C183.2,388.7 183.2,394.2 183.3,400 C183.5,405.8 184,412.7 184.4,418 C184.8,423.3 185.4,427.2 186,432 C186.6,436.8 187.3,442.2 188,447 C188.7,451.8 189,455.2 190,461 C191,466.8 192.3,471.8 194,482 C195.7,492.2 198.2,512.2 200,522 C201.8,531.8 203.3,533.8 205,541 C206.7,548.2 208.5,556.8 210,565 C211.5,573.2 213.2,583.2 214,590 C214.8,596.8 215.1,599.3 215,606 C214.9,612.7 214.2,621.5 213.5,630 C212.8,638.5 210.9,649.7 211,657 C211.1,664.3 212.5,669.7 214,674 C215.5,678.3 218,680 220,683 C222,686 222.7,688.5 226,692 C229.3,695.5 236.7,701.2 240,704 C243.3,706.8 245,708.2 246,709" stroke-width="1.2" fill="none" />
</g>
<g id="cover" stroke="#000" fill="none">
<path d="M211,207 C218,206 228,208 236,216 C243,223 248,230 249.6,236 L249.6,366.4 L234.2,366.4 L234.2,357.6 L194,357.6 L194,344 L220,343.6 C227,341.5 233,336 237.6,328 L238,322 L238,246 C236,236 230,228 222,222 C217,219 213,218 210,218 Z" fill="#fff" stroke="none"/>
<use href="#h1m" clip-path="url(#c3)"/>
<g clip-path="url(#cArc)"><use href="#h2m" clip-path="url(#c4)"/></g>
<path d="M211,207 C218,206 228,208 236,216 C243,223 248,230 249.6,236 L249.6,392.8" stroke-width="2.6" fill="none" />
<path d="M210,218 C213,218 217,219 222,222 C230,228 236,236 238,246 L238,322 L237.6,328 C233,336 227,341.5 220,343.6" stroke-width="2" fill="none" />
<path d="M210.5,207 L209.5,219" stroke-width="1.5" fill="none" />
<path d="M193.2,384 L193.2,344.2 L220,344.2" stroke-width="3.4" fill="none" />
<path d="M195,357.6 L234.2,357.6" stroke-width="2.4" fill="none" />
<path d="M234.2,357.6 L234.2,392.8" stroke-width="1.6" fill="none" />
<path d="M234.2,366.4 L249.6,366.4" stroke-width="2" fill="none" />
<path d="M217.6,282.8 L222.8,284.4 L222.8,326 L212,343.6" stroke-width="2" fill="none" />
<path d="M222.6,284.4 C229,286 234,291 237.6,300" stroke-width="2" fill="none" />
<path d="M223,326 C226,329.6 233,330.4 237.6,327.6" stroke-width="1.8" fill="none" />
<path d="M201.4,358 H234.2 V366.4 H201.4 Z" fill="#fff" stroke="none"/>
<use href="#h2m" clip-path="url(#c5)"/>
<path d="M201.4,382.4 H234.2 V392.8 H201.4 Z" fill="#fff" stroke="none"/>
<use href="#h1m" clip-path="url(#c6)"/>
<path d="M201.4,357.8 H234.2 V392.6 H201.4 Z" stroke-width="2" fill="none" />
<line x1="201.4" y1="367.4" x2="234.2" y2="367.4" stroke-width="1.8" />
<line x1="201.4" y1="381.2" x2="234.2" y2="381.2" stroke-width="1.8" />
<circle cx="217.6" cy="374.6" r="8" fill="#fff" stroke-width="2.0"/>
<line x1="201.4" y1="368.4" x2="209.8" y2="368.4" stroke-width="1" />
<line x1="201.4" y1="380.4" x2="209.8" y2="380.4" stroke-width="1" />
<line x1="225" y1="368.4" x2="232.6" y2="368.4" stroke-width="1" />
<line x1="225" y1="380.4" x2="232.6" y2="380.4" stroke-width="1" />
<line x1="227.4" y1="366.4" x2="227.4" y2="382.4" stroke-width="1.4" />
<line x1="183.4" y1="383.8" x2="201.4" y2="383.8" stroke-width="1.5" />
<line x1="201.4" y1="392.8" x2="201.4" y2="432" stroke-width="1.6" />
<line x1="201.4" y1="392.8" x2="256" y2="392.8" stroke-width="1.6" />
</g>
<g id="clutch" stroke="#000" fill="none">
<path d="M260,273 H275 V370.4 H260 Z" fill="#fff" stroke="none"/>
<use href="#h1m" clip-path="url(#c7)"/>
<path d="M250,273 H260 V326.6 H250 Z" fill="#fff" stroke="none"/>
<use href="#x1" clip-path="url(#c8)"/>
<use href="#x2" clip-path="url(#c9)"/>
<path d="M275,273 H284.6 V326 H275 Z" fill="#fff" stroke="none"/>
<use href="#x1" clip-path="url(#c10)"/>
<use href="#x2" clip-path="url(#c11)"/>
<rect x="251" y="295.6" width="33" height="9.6" fill="#fff" stroke="none"/>
<path d="M253,296 H257.4 V305 H253 Z" stroke-width="1.4" fill="none" />
<path d="M278,296 H282 V305 H278 Z" stroke-width="1.4" fill="none" />
<line x1="257" y1="299" x2="278" y2="299" stroke-width="1.3" />
<line x1="257" y1="302.6" x2="278" y2="302.6" stroke-width="1.3" />
<line x1="260" y1="273" x2="260" y2="296" stroke-width="2.2" />
<line x1="260" y1="305" x2="260" y2="371" stroke-width="2" />
<line x1="275" y1="273" x2="275" y2="296" stroke-width="2.2" />
<line x1="275" y1="305" x2="275" y2="327" stroke-width="2.2" />
<line x1="250" y1="273" x2="284.6" y2="273" stroke-width="2" />
<line x1="249.6" y1="327" x2="260" y2="327" stroke-width="2.2" />
<line x1="275" y1="326.4" x2="284.6" y2="326.4" stroke-width="1.6" />
<path d="M284.6,236 H306 V361.6 H284.6 Z" fill="#fff" stroke="none"/>
<use href="#h2c" clip-path="url(#c12)"/>
<path d="M284.6,361.6 L284.6,236 L306,236" stroke-width="1.8" fill="none" />
<path d="M306,236 L367,236 L393.6,264 L393.6,361.6 L306,361.6 Z" fill="#fff" stroke="none"/>
<use href="#h1" clip-path="url(#c13)"/>
<path d="M306,236 L367,236 L393.6,264 L393.6,361.6 L306,361.6" stroke-width="1.8" fill="none" />
<line x1="306" y1="236" x2="306" y2="361.6" stroke-width="2.6" />
<path d="M305,273 L368,273 Q371,273 371,276 L371,326.4 L305,326.4 Z" fill="#000" stroke="none"/>
<rect x="314.3" y="283.4" width="53.6" height="38" fill="#fff" stroke="none"/>
<path d="M318.7,283.4V321.4M323.1,283.4V321.4M327.6,283.4V321.4M332,283.4V321.4M336.5,283.4V321.4M340.9,283.4V321.4M345.4,283.4V321.4M349.8,283.4V321.4M354.3,283.4V321.4M358.7,283.4V321.4M363.2,283.4V321.4M314.3,287.7H367.9M314.3,291.9H367.9M314.3,296.2H367.9M314.3,300.4H367.9M314.3,304.7H367.9M314.3,308.9H367.9M314.3,313.2H367.9M314.3,317.4H367.9" stroke-width="1.2" fill="none" />
<path d="M261,362.6 H320 V370.4 H261 Z" fill="#fff" stroke="none"/>
<use href="#h1s" clip-path="url(#c14)"/>
<line x1="259.4" y1="370.8" x2="320.7" y2="370.8" stroke-width="3" />
<path d="M276.2,327 L276.2,354 C276.2,359 279,362 284,362 L329,362" stroke-width="2.5" fill="none" />
<path d="M259.6,372.3 L320,372.3 L320,385 L259.6,385 Q256.4,385 256.4,382 L256.4,375.3 Q256.4,372.3 259.6,372.3 Z" fill="#fff" stroke="none"/>
<use href="#h2m" clip-path="url(#c15)"/>
<path d="M259.6,372.3 L320,372.3 L320,385 L259.6,385 Q256.4,385 256.4,382 L256.4,375.3 Q256.4,372.3 259.6,372.3 Z" fill="none" stroke-width="1.4"/>
<line x1="257.6" y1="386.6" x2="318" y2="386.6" stroke-width="3.4" />
<rect x="261.2" y="388.3" width="51.2" height="9.8" fill="#fff" stroke-width="1.6"/>
<line x1="259.4" y1="399.5" x2="313.4" y2="399.5" stroke-width="2.8" />
<path d="M261.4,401 H313.4 V404.2 H261.4 Z" fill="#fff" stroke="none"/>
<use href="#h1s" clip-path="url(#c16)"/>
<line x1="261.4" y1="404.6" x2="313.4" y2="404.6" stroke-width="1" />
<line x1="256.1" y1="386" x2="256.1" y2="432" stroke-width="1.8" />
<line x1="259.7" y1="386" x2="259.7" y2="432" stroke-width="1.8" />
<line x1="316.2" y1="362" x2="316.2" y2="432" stroke-width="1.8" />
<line x1="319.9" y1="362" x2="319.9" y2="432" stroke-width="1.8" />
<line x1="320" y1="392.8" x2="462" y2="392.8" stroke-width="1.6" />
<line x1="393" y1="340" x2="393" y2="393" stroke-width="2.4" />
</g>
<g id="p16" stroke="#000" fill="none">
<path d="M389.6,208.6 L419,208.6 L419,218 C412,218 402,219 399.5,224 L399.5,329 L402.5,329.6 L419,333.4 L419,340 L393.6,340 L393.6,264 L392,262 L392,236 L389.6,236 Z" fill="#fff" stroke="none"/>
<use href="#h2w" clip-path="url(#c17)"/>
<path d="M389.6,208.6 L419,208.6" stroke-width="1.8" fill="none" />
<path d="M419,218 C412,218 403,219 400.6,224 L400.6,328 L403,329.8 L419,333.6" stroke-width="2" fill="none" />
<path d="M393.6,340 L419,340" stroke-width="1.6" fill="none" />
<line x1="393.2" y1="236" x2="393.2" y2="340" stroke-width="2.2" />
<line x1="419" y1="208.6" x2="419" y2="393" stroke-width="2.2" />
<line x1="420" y1="393" x2="420" y2="537" stroke-width="1.4" />
<path d="M363,208.6 H372 V231 H363 Z" fill="#fff" stroke="none"/>
<use href="#h2m" clip-path="url(#c18)"/>
<path d="M363,208.6 H372 V231 H363 Z" fill="none" stroke-width="1.8"/>
<rect x="367" y="164.4" width="28" height="18" rx="3" ry="3" fill="#fff" stroke-width="2.2"/>
<rect x="372.3" y="182.4" width="17.2" height="52" fill="#fff" stroke-width="2.6"/>
<line x1="375" y1="192" x2="375" y2="232" stroke-width="1" />
<line x1="386.8" y1="192" x2="386.8" y2="232" stroke-width="1" />
<line x1="381" y1="168" x2="381" y2="232" stroke-width="0.9" stroke-dasharray="9 2 2 2"/>
<line x1="370" y1="235" x2="392.5" y2="235" stroke-width="2.4" />
<circle cx="384" cy="243.4" r="7.6" fill="#fff" stroke-width="1.6"/>
</g>
<g id="lower" stroke="#000" fill="none">
<line x1="246" y1="432" x2="246" y2="649" stroke-width="1" />
<line x1="250.4" y1="432" x2="250.4" y2="649" stroke-width="1.6" />
<path d="M261,432 L261,537 Q261,540 264,541" stroke-width="2.2" fill="none" />
<line x1="275.4" y1="432" x2="275.4" y2="544" stroke-width="2.4" />
<path d="M284.6,432 L284.6,532 Q285,536 288,537" stroke-width="1" fill="none" />
<line x1="306" y1="432" x2="306" y2="549" stroke-width="2.6" />
<line x1="306" y1="569" x2="306" y2="651" stroke-width="1.4" />
<path d="M307,455.4 C311,457.4 315,457.6 320,457.6 L356,457.6 C368,458 378,466 378,478 C378,490 368,500.6 356,500.6 L307,500.6 Z" fill="#fff" stroke="none"/>
<use href="#h1" clip-path="url(#c19)"/>
<path d="M307,455.4 C311,457.4 315,457.6 320,457.6 L356,457.6 C368,458 378,466 378,478 C378,490 368,500.6 356,500.6 L307,500.6" stroke-width="1.5" fill="none" />
<rect x="307" y="464.6" width="56.4" height="26" fill="#000" stroke="none"/>
<line x1="310.4" y1="468.4" x2="312.6" y2="487" stroke="#fff" stroke-width="2.1"/>
<line x1="315.5" y1="468.4" x2="317.7" y2="487" stroke="#fff" stroke-width="2.1"/>
<line x1="320.7" y1="468.4" x2="322.9" y2="487" stroke="#fff" stroke-width="2.1"/>
<line x1="325.8" y1="468.4" x2="328" y2="487" stroke="#fff" stroke-width="2.1"/>
<line x1="331" y1="468.4" x2="333.2" y2="487" stroke="#fff" stroke-width="2.1"/>
<line x1="336.1" y1="468.4" x2="338.3" y2="487" stroke="#fff" stroke-width="2.1"/>
<line x1="341.3" y1="468.4" x2="343.5" y2="487" stroke="#fff" stroke-width="2.1"/>
<line x1="346.4" y1="468.4" x2="348.6" y2="487" stroke="#fff" stroke-width="2.1"/>
<line x1="356.7" y1="468.4" x2="358.9" y2="487" stroke="#fff" stroke-width="2.1"/>
<line x1="301" y1="477.8" x2="382.4" y2="477.8" stroke-width="1.1" />
<path d="M251,548.6 L251,540.6 C257,541.6 262,541.6 268,541 L284,541 C288,540 288,536.4 294,536.4 L340,537 C352,537.4 362,533.6 374,533.2 C382,533.2 388,536 393.6,538 L393.6,548.6 Z" fill="#fff" stroke="none"/>
<use href="#h1" clip-path="url(#c20)"/>
<path d="M251,548.6 L251,540.6 C257,541.6 262,541.6 268,541 L284,541 C288,540 288,536.4 294,536.4 L340,537 C352,537.4 362,533.6 374,533.2 C382,533.2 388,536 393.6,538 L393.6,548.6 Z" fill="none" stroke-width="1.2"/>
<path d="M251,567 L393.6,567 L393.6,578.6 C380,579 365,579.4 350,577 C335,574 320,572.6 306,572.4 L262,572.4 C257,572.4 253,572 251,574 Z" fill="#fff" stroke="none"/>
<use href="#h1" clip-path="url(#c21)"/>
<path d="M251,567 L393.6,567 L393.6,578.6 C380,579 365,579.4 350,577 C335,574 320,572.6 306,572.4 L262,572.4 C257,572.4 253,572 251,574 Z" fill="none" stroke-width="1.2"/>
<rect x="251" y="549" width="124" height="17.4" fill="#fff" stroke-width="2.0"/>
<path d="M375,543 L394,543 Q397.4,543 397.4,546.4 L397.4,566.6 Q397.4,570 394,570 L375,570 Z" fill="#fff" stroke-width="2.0"/>
<line x1="381" y1="543" x2="381" y2="570" stroke-width="1.6" />
<line x1="213" y1="557.6" x2="406" y2="557.6" stroke-width="0.9" />
<line x1="261" y1="572.4" x2="261" y2="590" stroke-width="1.4" />
<line x1="273.4" y1="572.4" x2="273.4" y2="590" stroke-width="1.4" />
<line x1="276.6" y1="572.4" x2="276.6" y2="590" stroke-width="1.4" />
<line x1="250.4" y1="590" x2="285" y2="590" stroke-width="1.6" />
<path d="M286,572.4 L286,628 L394,628" stroke-width="2.2" fill="none" />
<line x1="285" y1="572.8" x2="307" y2="572.8" stroke-width="2.8" />
<line x1="394" y1="393" x2="394" y2="628" stroke-width="1.3" />
<line x1="394" y1="537" x2="420" y2="537" stroke-width="1.3" />
<line x1="394" y1="470.6" x2="462" y2="470.6" stroke-width="1.5" />
<line x1="288" y1="646.6" x2="336" y2="646.6" stroke-width="1" />
<path d="M306,646.6 L298.5,645.2 L298.5,648 Z M306,646.6 L313.5,645.2 L313.5,648 Z" fill="#000" stroke="none"/>
<path d="M249.6,631 C244,645 232,656.6 211,659.6" stroke-width="1.6" fill="none" />
<path d="M238,649 L251,649" stroke-width="1.6" fill="none" />
<path d="M250,631 L250,649 L238,649 C243,645 248,638 250,631 Z" fill="#fff" stroke="none"/>
<path d="M238,649 L251,649" stroke-width="1.6" fill="none" />
</g>
<text x="332.4" y="645" opacity="0.999" font-size="11" font-family="'Liberation Serif', serif" fill="#000" stroke="none" text-anchor="middle" font-weight="bold">δ</text>
<g id="small" stroke="#000" fill="none">
<line x1="393.5" y1="411" x2="404" y2="411" stroke-width="3" />
<line x1="410.6" y1="411" x2="419.7" y2="411" stroke-width="3" />
<line x1="393.5" y1="452.4" x2="404" y2="452.4" stroke-width="3" />
<line x1="410.6" y1="452.4" x2="419.7" y2="452.4" stroke-width="3" />
<line x1="394" y1="415.8" x2="412" y2="415.8" stroke-width="1.1" />
<line x1="394" y1="445.4" x2="412" y2="445.4" stroke-width="1.1" />
<ellipse cx="399.4" cy="431" rx="2.7" ry="12.6" transform="rotate(9 399.4 431)" stroke-width="1.4" fill="#fff"/>
<ellipse cx="404.2" cy="431" rx="2.7" ry="12.6" transform="rotate(9 404.2 431)" stroke-width="1.4" fill="#fff"/>
<ellipse cx="409" cy="431" rx="2.7" ry="12.6" transform="rotate(9 409 431)" stroke-width="1.4" fill="#fff"/>
<rect x="412.6" y="417" width="7.4" height="28" fill="#fff" stroke-width="1.5"/>
<path d="M420.3,415.6 L434.7,415.6 L437.9,422 L437.9,441.6 L434.7,447.8 L420.3,447.8 Z" fill="#fff" stroke-width="1.8"/>
<line x1="420.3" y1="423.4" x2="437.9" y2="423.4" stroke-width="1.2" />
<line x1="420.3" y1="440.2" x2="437.9" y2="440.2" stroke-width="1.2" />
<line x1="434.7" y1="415.6" x2="434.7" y2="447.8" stroke-width="1" />
<rect x="437.9" y="422.8" width="13.3" height="17.2" fill="#fff" stroke-width="2.0"/>
</g>
<g id="fan" stroke="#000" fill="none">
<path d="M458.4,251 L474,224.4" stroke-width="1.8" fill="none" />
<path d="M474,224.4 C477.3,224.5 487.3,224.1 494,225 C500.7,225.9 508,227.5 514,230 C520,232.5 525,235.7 530,240 C535,244.3 540.7,251 544,256 C547.3,261 548.7,265.7 549.6,270 C550.5,274.3 549.6,280 549.6,282 L500,370" stroke-width="1.8" fill="none" />
<path d="M498.6,493 L550,578" stroke-width="1.8" fill="none" />
<path d="M550,578 C550,580 550.7,586 550,590 C549.3,594 548.3,597.5 546,602 C543.7,606.5 540.3,612.3 536,617 C531.7,621.7 526,626.6 520,630 C514,633.4 507.3,636.1 500,637.6 C492.7,639.1 480,638.8 476,639 L459,612" stroke-width="1.8" fill="none" />
<line x1="458.6" y1="251" x2="458.6" y2="392.8" stroke-width="1.8" />
<line x1="458.6" y1="470.6" x2="458.6" y2="612" stroke-width="1.8" />
<line x1="461.6" y1="470.6" x2="461.6" y2="500" stroke-width="1.2" />
<path d="M458.6,252 C462,253 467,256 470,261 L475,276 L483,310 L489,338 L493.6,356 C496,366 502,375 514,378.6 L533.6,379 L533.6,403 L497,403 L497,398 C494,394 490,393 484,393 L464,393 L462,393 L462,379 L475,379 C480,378.6 483,376 483.4,369 C483.6,362 482.8,356 481.6,350 L473,310 L464,276 Z" fill="#fff" stroke="none"/>
<use href="#x1" clip-path="url(#c22)"/>
<use href="#x2" clip-path="url(#c23)"/>
<path d="M458.6,252 C462,253 467,256 470,261 L475,276 L483,310 L489,338 L493.6,356 C496,366 502,375 514,378.6 L533.6,379 L533.6,403 L497,403 L497,398 C494,394 490,393 484,393 L464,393 L462,393 L462,379 L475,379 C480,378.6 483,376 483.4,369 C483.6,362 482.8,356 481.6,350 L473,310 L464,276 Z" fill="none" stroke-width="1.8"/>
<path d="M481,395 C486,398 488,410.4 499,410.4 L539,410.4 L539,403 L497,403 L497,398 C494,394.6 490,393.4 484,393.4 Z" fill="#fff" stroke="none"/>
<use href="#h1" clip-path="url(#c24)"/>
<path d="M481,395 C486,398 488,410.4 499,410.4 L539,410.4 L539,403 L497,403 L497,398 C494,394.6 490,393.4 484,393.4 Z" fill="none" stroke-width="1.4"/>
<path d="M464,469.6 L533.6,469.6 L533.6,484 L512,484.6 C503,487 500,492 498,498 L489,530 L479,570 L471.6,600 C470,606 466,610 459.6,612 L459.6,607 L461.4,600 L469,570 L478.6,530 L484,500 C484,492 480,486.4 472,484.6 L464,484.6 Z" fill="#fff" stroke="none"/>
<use href="#x1" clip-path="url(#c25)"/>
<use href="#x2" clip-path="url(#c26)"/>
<path d="M464,469.6 L533.6,469.6 L533.6,484 L512,484.6 C503,487 500,492 498,498 L489,530 L479,570 L471.6,600 C470,606 466,610 459.6,612 L459.6,607 L461.4,600 L469,570 L478.6,530 L484,500 C484,492 480,486.4 472,484.6 L464,484.6 Z" fill="none" stroke-width="1.8"/>
<line x1="464.6" y1="393" x2="464.6" y2="469.6" stroke-width="1.6" />
<line x1="467.4" y1="393" x2="467.4" y2="469.6" stroke-width="1.2" />
<rect x="534" y="383.6" width="5.8" height="90.6" fill="#fff" stroke-width="1.5"/>
<line x1="534.6" y1="410" x2="534.6" y2="469" stroke-width="2.2" />
<line x1="538.8" y1="410" x2="538.8" y2="468" stroke-width="2.4" />
<line x1="534" y1="396.4" x2="539.8" y2="396.4" stroke-width="1.2" />
</g>
<g id="axis" stroke="#000" fill="none">
<line x1="150" y1="432" x2="213" y2="432" stroke-width="1.5" />
<line x1="229" y1="432" x2="246" y2="432" stroke-width="1.5" />
<line x1="246" y1="432" x2="340" y2="432" stroke-width="1.5" />
<line x1="358" y1="432" x2="375" y2="432" stroke-width="1.5" />
<line x1="392" y1="432" x2="462" y2="432" stroke-width="1.5" />
<line x1="471" y1="432" x2="485" y2="432" stroke-width="1.5" />
<line x1="487" y1="432" x2="503" y2="432" stroke-width="1.5" />
<line x1="520" y1="432" x2="537" y2="432" stroke-width="1.5" />
<line x1="541" y1="432" x2="583" y2="432" stroke-width="1.5" />
</g>
<g id="labels" stroke="#000" fill="none" stroke-width="1">
<line x1="42.3" y1="46.5" x2="56.7" y2="46.5" stroke-width="1.3" />
<line x1="56.7" y1="46.5" x2="211" y2="206" stroke-width="1.2" />
<line x1="175.6" y1="46.5" x2="191" y2="46.5" stroke-width="1.3" />
<line x1="191" y1="46.5" x2="284" y2="246" stroke-width="1.2" />
<line x1="251" y1="46.5" x2="266.8" y2="46.5" stroke-width="1.3" />
<line x1="266.8" y1="46.5" x2="350" y2="472" stroke-width="1.2" />
<line x1="278" y1="46.5" x2="294" y2="46.5" stroke-width="1.3" />
<line x1="294" y1="46.5" x2="344" y2="252" stroke-width="1.2" />
<line x1="313" y1="46.5" x2="329" y2="46.5" stroke-width="1.3" />
<line x1="329" y1="46.5" x2="381" y2="236" stroke-width="1.2" />
<line x1="428" y1="46.5" x2="444.3" y2="46.5" stroke-width="1.3" />
<line x1="444.3" y1="46.5" x2="384" y2="176" stroke-width="1.2" />
<line x1="452" y1="46.5" x2="467.7" y2="46.5" stroke-width="1.3" />
<line x1="467.7" y1="46.5" x2="398" y2="215" stroke-width="1.2" />
<line x1="479.5" y1="46.5" x2="494.8" y2="46.5" stroke-width="1.3" />
<line x1="494.8" y1="46.5" x2="410.5" y2="416" stroke-width="1.2" />
<line x1="506.8" y1="46.5" x2="522.6" y2="46.5" stroke-width="1.3" />
<line x1="522.6" y1="46.5" x2="427.5" y2="419.5" stroke-width="1.2" />
<line x1="563.2" y1="46.5" x2="578.8" y2="46.5" stroke-width="1.3" />
<line x1="578.8" y1="46.5" x2="445.5" y2="423" stroke-width="1.2" />
<line x1="675" y1="46.5" x2="692.6" y2="46.5" stroke-width="1.3" />
<line x1="675" y1="46.5" x2="517" y2="287" stroke-width="1.2" />
<line x1="677.3" y1="215.4" x2="692" y2="215.4" stroke-width="1.3" />
<line x1="677.3" y1="215.4" x2="538" y2="384" stroke-width="1.2" />
<line x1="677.3" y1="287.4" x2="692" y2="287.4" stroke-width="1.3" />
<line x1="677.3" y1="287.4" x2="576" y2="388" stroke-width="1.2" />
<line x1="676.7" y1="338.3" x2="711.7" y2="338.3" stroke-width="1.3" />
<line x1="676.7" y1="338.3" x2="386" y2="557" stroke-width="1.2" />
<line x1="675.6" y1="401" x2="709.7" y2="401" stroke-width="1.3" />
<line x1="675.6" y1="401" x2="336" y2="643" stroke-width="1.2" />
<line x1="43.2" y1="155.5" x2="57.8" y2="155.5" stroke-width="1.3" />
<line x1="57.8" y1="155.5" x2="250" y2="273" stroke-width="1.2" />
<line x1="43.2" y1="208.5" x2="57.8" y2="208.5" stroke-width="1.3" />
<line x1="57.8" y1="208.5" x2="236" y2="330" stroke-width="1.2" />
<line x1="46" y1="261.3" x2="56.7" y2="261.3" stroke-width="1.3" />
<line x1="56.7" y1="261.3" x2="268" y2="369.5" stroke-width="1.2" />
<line x1="46" y1="292.2" x2="58.8" y2="292.2" stroke-width="1.3" />
<line x1="58.8" y1="292.2" x2="273" y2="395" stroke-width="1.2" />
<line x1="46.3" y1="340.5" x2="58.8" y2="340.5" stroke-width="1.3" />
<line x1="58.8" y1="340.5" x2="213" y2="379.6" stroke-width="1.2" />
<line x1="46.3" y1="389.8" x2="58.8" y2="389.8" stroke-width="1.3" />
<line x1="58.8" y1="389.8" x2="219.8" y2="426.5" stroke-width="1.2" />
<line x1="46.3" y1="489.6" x2="58.8" y2="489.6" stroke-width="1.3" />
<line x1="58.8" y1="489.6" x2="252" y2="543.5" stroke-width="1.2" />
</g>
<g id="label-text" opacity="0.999" fill="#000" stroke="none" font-family="'Liberation Serif', serif" font-weight="bold">
<text x="46.9" y="46.1" font-size="13.5" textLength="5.2" lengthAdjust="spacingAndGlyphs" >8</text>
<text x="179.7" y="46.1" font-size="13.5" textLength="6.2" lengthAdjust="spacingAndGlyphs" >9</text>
<text x="253.1" y="46.1" font-size="13.5" textLength="11.2" lengthAdjust="spacingAndGlyphs" >10</text>
<text x="281.1" y="46.1" font-size="13.5" textLength="10.2" lengthAdjust="spacingAndGlyphs" >11</text>
<text x="315.7" y="46.1" font-size="13.5" textLength="10.6" lengthAdjust="spacingAndGlyphs" >14</text>
<text x="429.7" y="46.1" font-size="13.5" textLength="10.3" lengthAdjust="spacingAndGlyphs" >15</text>
<text x="454.7" y="46.1" font-size="13.5" textLength="10" lengthAdjust="spacingAndGlyphs" >16</text>
<text x="481.5" y="46.1" font-size="13.5" textLength="10.3" lengthAdjust="spacingAndGlyphs" >17</text>
<text x="508.9" y="46.1" font-size="13.5" textLength="10.2" lengthAdjust="spacingAndGlyphs" >18</text>
<text x="564.7" y="46.1" font-size="13.5" textLength="10.3" lengthAdjust="spacingAndGlyphs" >19</text>
<text x="679.7" y="46.1" font-size="13.5" textLength="10.6" lengthAdjust="spacingAndGlyphs" >20</text>
<text x="679.1" y="215" font-size="13.5" textLength="11" lengthAdjust="spacingAndGlyphs" >21</text>
<text x="679.5" y="287" font-size="13.5" textLength="10.7" lengthAdjust="spacingAndGlyphs" >22</text>
<text x="678.7" y="337.9" font-size="13.5" textLength="31.1" lengthAdjust="spacingAndGlyphs" >23, 24</text>
<text x="688.3" y="400.6" font-size="13.5" textLength="10.4" lengthAdjust="spacingAndGlyphs" >25</text>
<text x="48.5" y="155.1" font-size="13.5" textLength="5.2" lengthAdjust="spacingAndGlyphs" >7</text>
<text x="48.5" y="208.1" font-size="13.5" textLength="5.2" lengthAdjust="spacingAndGlyphs" >6</text>
<text x="50.7" y="260.9" font-size="13.5" textLength="5.2" lengthAdjust="spacingAndGlyphs" >5</text>
<text x="50.7" y="291.8" font-size="13.5" textLength="5.2" lengthAdjust="spacingAndGlyphs" >4</text>
<text x="49.4" y="340.1" font-size="13.5" textLength="5.4" lengthAdjust="spacingAndGlyphs" >3</text>
<text x="49.4" y="389.4" font-size="13.5" textLength="5.4" lengthAdjust="spacingAndGlyphs" >2</text>
<text x="49.9" y="489.2" font-size="13.5" textLength="4.6" lengthAdjust="spacingAndGlyphs" >1</text>
</g>
</svg>
</body></html>
